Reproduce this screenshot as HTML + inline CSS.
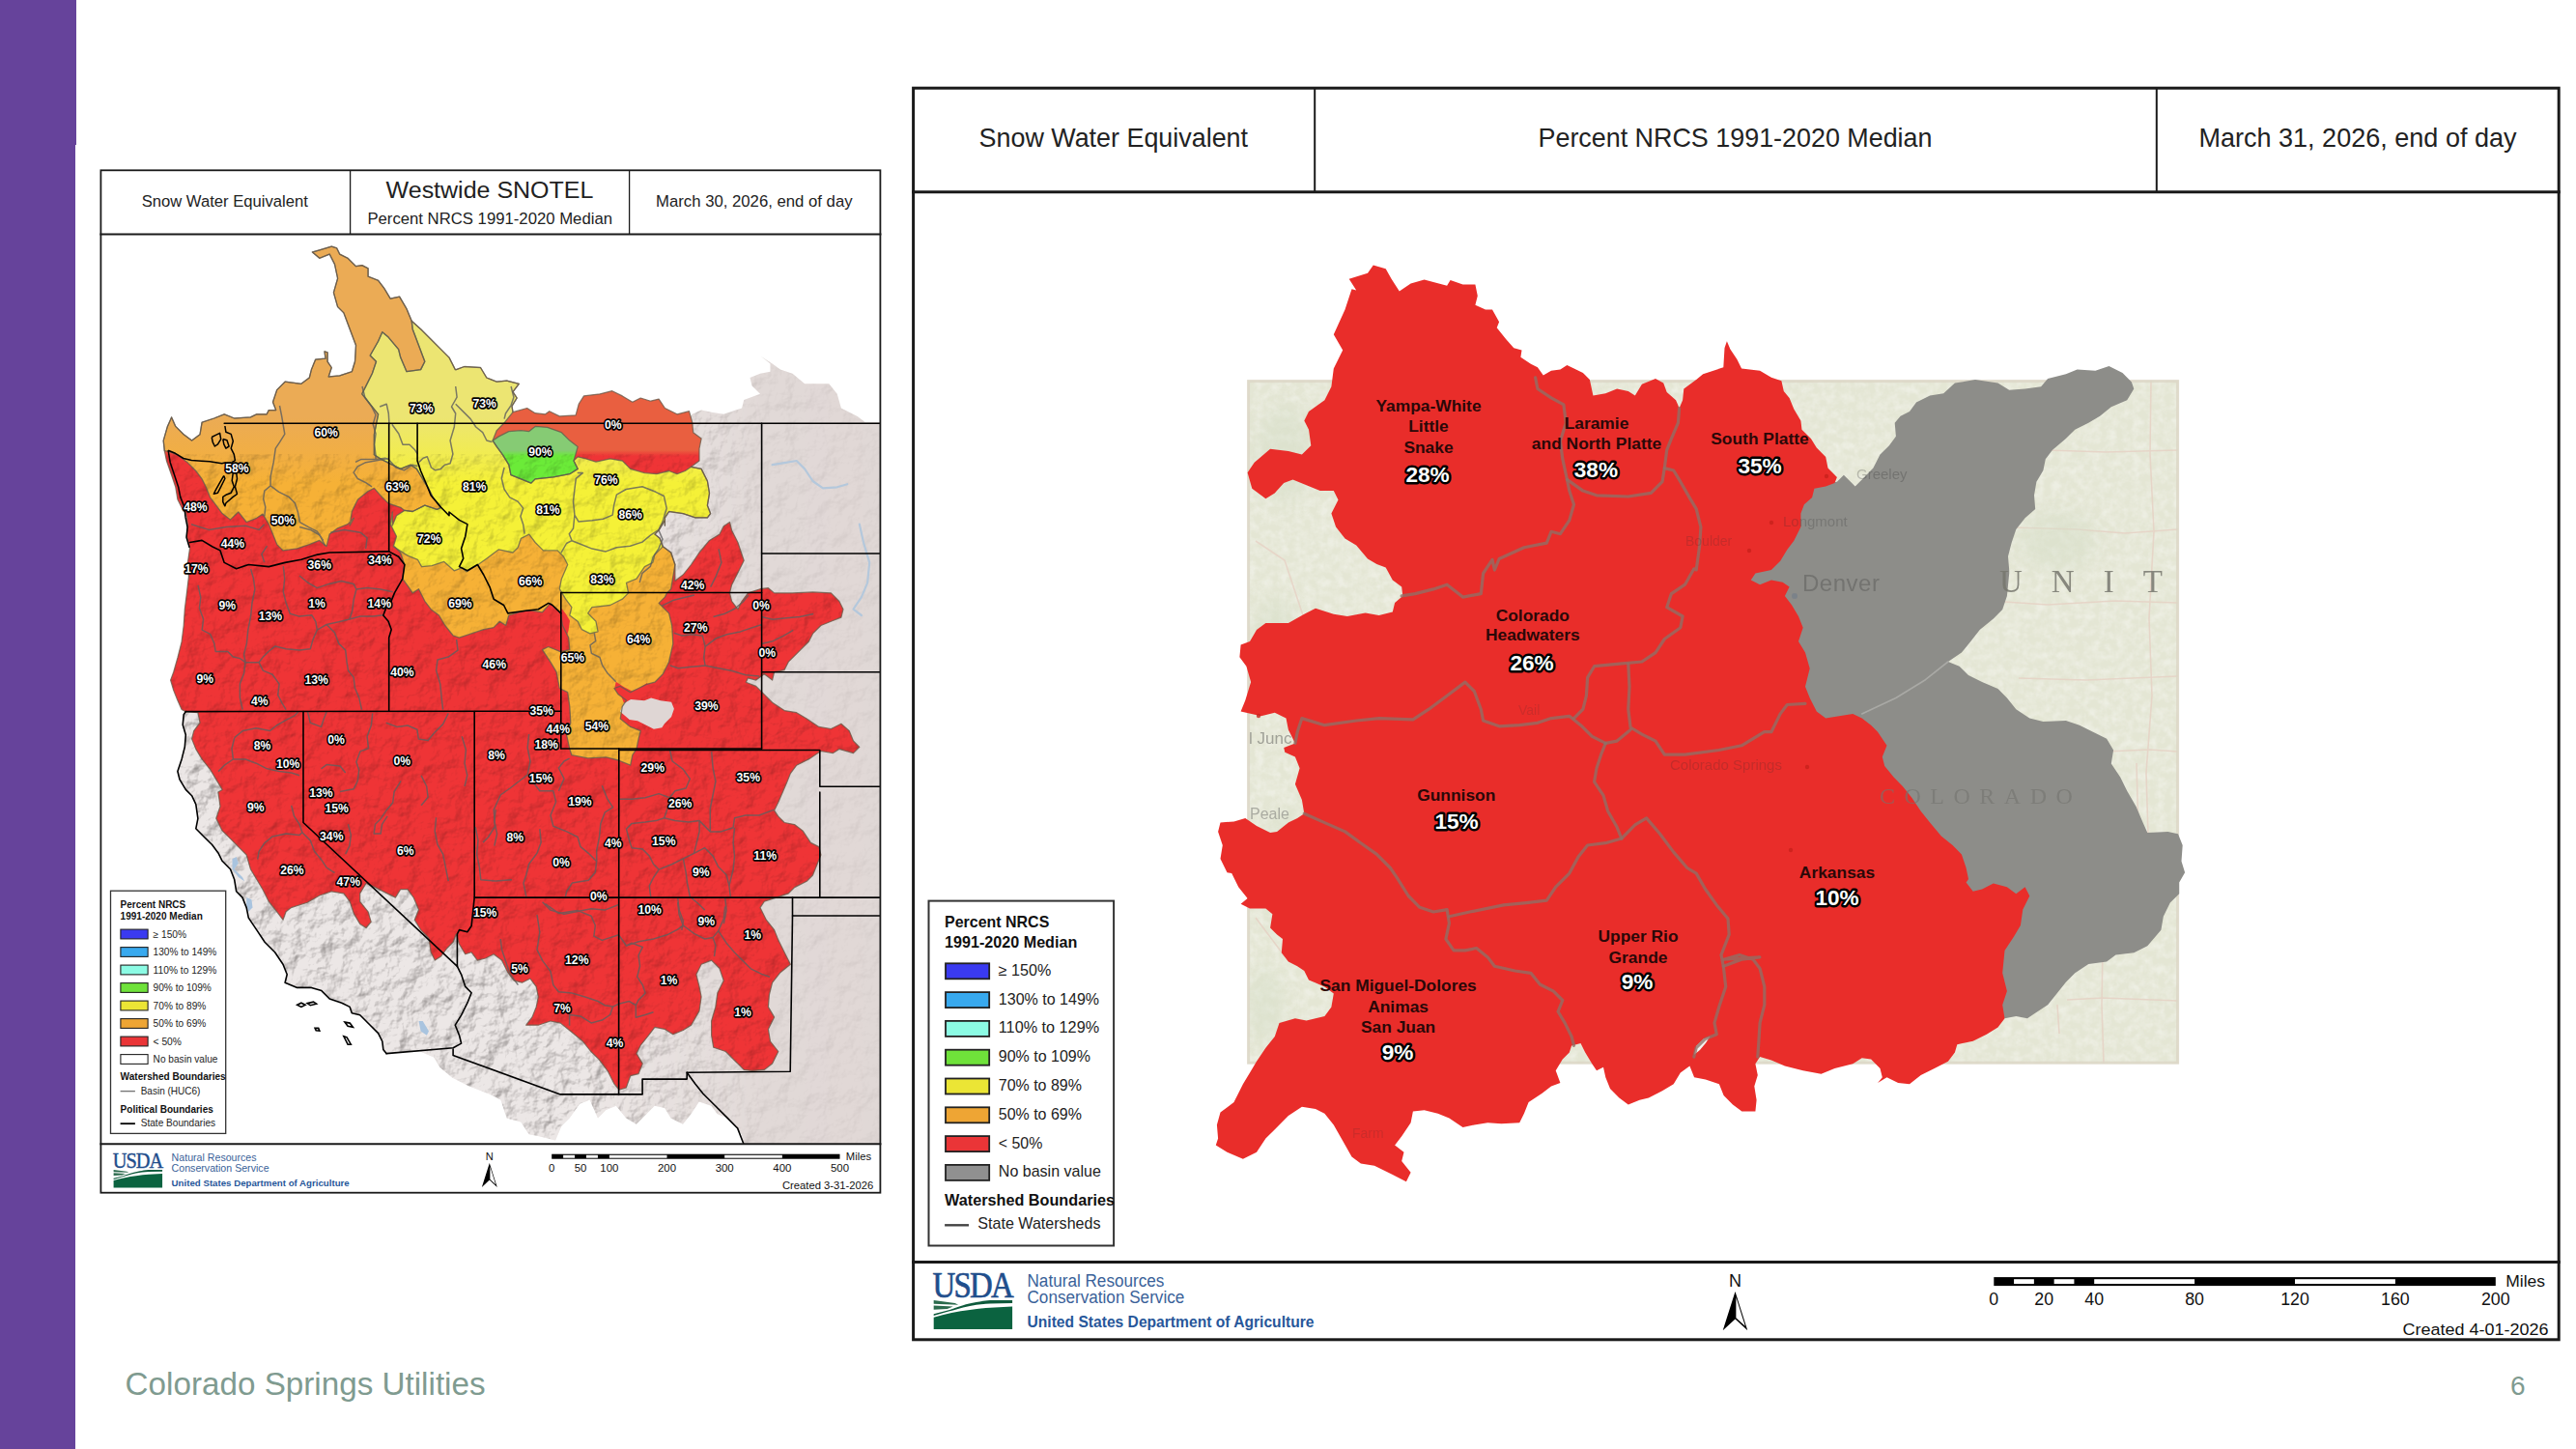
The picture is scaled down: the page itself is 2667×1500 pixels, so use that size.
<!DOCTYPE html><html><head><meta charset="utf-8"><title>Snow Water Equivalent</title><style>
html,body{margin:0;padding:0;background:#fff}body{width:2667px;height:1500px;overflow:hidden;position:relative}
svg{position:absolute;left:0;top:0;font-family:"Liberation Sans", sans-serif}
.pl{paint-order:stroke;stroke:#000;stroke-linejoin:round;fill:#fff;font-weight:bold}
</style></head><body>
<svg width="2667" height="1500" viewBox="0 0 2667 1500">
<defs>
<filter id="tex" x="0" y="0" width="100%" height="100%"><feTurbulence type="fractalNoise" baseFrequency="0.12" numOctaves="3" seed="3" result="n"/><feColorMatrix in="n" type="matrix" values="0 0 0 0 1  0 0 0 0 1  0 0 0 0 1  1.4 1.4 0 0 -1.05" result="a"/><feComposite in="a" in2="SourceGraphic" operator="in"/></filter>
<filter id="hs" x="0" y="0" width="100%" height="100%" color-interpolation-filters="sRGB"><feTurbulence type="fractalNoise" baseFrequency="0.05" numOctaves="5" seed="8" result="n"/><feDiffuseLighting in="n" surfaceScale="4.6" diffuseConstant="1.2" lighting-color="#ffffff" result="l"><feDistantLight azimuth="225" elevation="52"/></feDiffuseLighting><feComposite in="l" in2="SourceGraphic" operator="in"/></filter>
<linearGradient id="mw" x1="0" y1="0" x2="1" y2="0"><stop offset="0" stop-color="#fff"/><stop offset="0.62" stop-color="#fff"/><stop offset="0.85" stop-color="#333"/><stop offset="1" stop-color="#222"/></linearGradient><mask id="mwest" maskUnits="userSpaceOnUse" x="105" y="243" width="806" height="941"><rect x="105" y="243" width="806" height="941" fill="url(#mw)"/></mask>
<clipPath id="lmap"><rect x="105" y="243" width="806" height="941"/></clipPath>
<clipPath id="lunion"><polygon points="169.2,456.1 173.4,441.4 177.6,431.9 181.8,441.4 190.2,449.8 198.6,456.1 207,449.8 209.1,437.2 221.7,433 232.2,428.8 242.6,433 259.4,431.9 265.7,428.8 276.2,428.8 278.3,424.6 285.7,424.6 282.5,416.2 286.7,403.6 295.1,395.2 311.9,397.3 320.3,391 322.4,382.6 326.6,372.2 337,371.1 336,363.8 339.1,364.8 339.1,374.3 343.3,380.5 340.2,390 351.7,388.9 364.3,384.7 367.5,374.3 368.5,357.5 362.2,340.7 355.9,323.9 349.6,317.6 345.4,302.9 349.6,288.2 346.5,273.6 341.2,263.1 330.8,267.3 323.4,261 330.8,258.9 343.3,255.1 348.6,256.8 351.7,263.1 360.1,267.3 368.5,275.7 374.8,274.6 381.1,277.8 381.1,286.2 391.6,290.3 397.9,298.7 404.2,309.2 413.6,307.1 421,319.7 426.2,332.3 435.6,340.7 446.1,351.2 454.5,359.6 465,370.1 471.3,382.6 472.3,382.6 480.7,379.5 497.5,380.5 503.8,391 514.3,395.2 524.7,394.2 537.3,397.3 531,405.7 535.2,412 530,420.4 531,426.7 545.7,422.5 554.1,427.7 564.6,428.8 568.8,425.7 579.3,430.9 596.1,429.8 599.2,418.3 604.5,409.9 621.2,407.8 633.8,404.7 644.3,409.9 654.8,416.2 663.2,412 673.7,415.2 682.1,413.1 688.4,422.5 701,428.8 713.5,425.7 716.7,437.2 717.7,447.7 726.1,454 724,464.5 724,477 715.6,483.3 726.1,485.4 732.4,498 734.5,510.6 732.4,523.2 735.6,531.6 732.4,535.8 719.8,535.8 707.2,531.6 692.6,529.5 688.4,535.8 688.4,544 688.4,538.4 682.1,548.9 677.9,553.1 683.1,557.3 686.3,565.7 694.7,572 698.9,584.5 698.9,601.3 707.2,595 715.6,584.5 724,572 734.5,559.4 745,553.1 749.2,544.7 755.5,540.5 757.6,548.9 763.9,561.5 770.2,580.3 763.9,592.9 757.6,605.5 755.5,613.9 757.6,622.3 763.9,630.7 768.1,622.3 774.4,613.9 787,609.7 795.4,608.7 801.6,613.9 820.5,613.9 841.5,612.9 860.4,613.9 868.8,622.3 873,630.7 870.9,639.1 860.4,643.3 849.9,647.5 841.5,655.9 837.3,664.3 828.9,672.6 822.6,678.9 816.3,685.2 812.1,693.6 801.6,695.7 799.6,704.1 791.2,697.8 782.8,704.1 774.4,702 772.3,706.2 782.8,710.4 791.2,718.8 799.6,727.2 812.1,735.6 824.7,737.7 835.2,744 847.8,752.4 860.4,754.5 870.9,749.2 879.3,756.6 883.5,767 889.8,773.3 883.5,779.6 868.8,775.4 862.5,779.6 849.9,777.5 837.3,785.9 824.7,792.2 818.4,800.6 814.2,811.1 805.8,830.5 801.6,838.9 805.8,845.2 812.1,851.5 822.6,853.6 831,859.9 839.4,872.4 847.8,876.6 849.9,885 845.7,895.5 841.5,906 835.2,912.3 822.6,918.6 816.3,924.9 803.7,929.1 791.2,933.3 787,939.6 793.3,952.2 801.6,962.6 805.8,973.1 812.1,985.7 818.4,998.3 807.9,1006.7 799.6,1017.2 796.4,1029.8 795.4,1042.4 801.6,1052.9 795.4,1065.4 797.5,1078 805.8,1088.5 799.6,1101.1 791.2,1107.4 778.6,1108.4 770.2,1107.4 761.8,1099 751.3,1088.5 738.7,1084.3 736.6,1071.7 736.6,1057 740.8,1042.4 742.9,1027.7 749.2,1015.1 745,1002.5 736.6,994.1 726.1,998.3 720.9,1008.8 724,1021.4 726.1,1031.9 724,1046.6 715.6,1061.2 707.2,1066.5 696.8,1070.7 688.4,1065.4 677.9,1063.3 671.6,1071.7 663.2,1082.2 659,1090.6 665.3,1101.1 661.1,1111.6 652.7,1113.7 648.3,1126 641,1128.1 635.8,1121.8 629.5,1109.2 620,1096.6 611.8,1088.5 603.4,1078 590.8,1067.5 580.3,1059.1 569.8,1057 557.3,1061.2 544.7,1061.2 551,1052.9 555.2,1042.4 557.3,1031.9 555.2,1021.4 548.9,1013 540.5,1017.2 532.1,1015.1 525.8,1006.7 519.5,994.1 511.1,987.8 502.7,992 494.3,994.1 488,985.7 481.7,987.8 475.4,977.3 472.3,966.8 469.2,975.2 462.9,981.5 456.6,989.9 450.3,994.1 446.1,985.7 444,971 435.6,962.6 429.3,952.2 433.5,941.7 428.2,929.1 422,920.7 414.6,920.7 409.4,929.1 401,924.9 388.4,918.6 379,914.4 372.7,924.9 372.7,933.3 381.1,943.8 384.2,954.3 379,960.5 372.7,956.4 366.4,945.9 362.2,933.3 355.9,924.9 343.3,922.8 330.8,927 318.2,934.3 301.4,939.6 296.1,943.8 293,952.2 286.7,943.8 278.3,933.3 272,920.7 265.7,910.2 259.4,899.7 255.2,885 246.8,876.6 238.5,868.2 230.1,859.9 223.8,847.3 228,834.7 225.9,820 230.1,817.4 223.8,806.9 217.5,796.4 209.1,785.9 202.8,775.4 198.6,764.9 200.7,756.6 207,748.2 204.9,737.7 192.3,736.6 188.1,734.5 183.9,725.1 179.7,714.6 176.6,704.1 179.7,695.7 183.9,681 188.1,664.3 190.2,647.5 191.3,630.7 193.4,613.9 195.4,597.1 194.4,582.4 196.5,567.8 193.4,555.2 194.4,542.6 192.3,530 190.2,529.5 183.9,516.9 181.8,504.3 177.6,491.7 172.4,477 170.3,466.6"/></clipPath>
<clipPath id="lland"><polygon points="192.3,736.6 300,700 500,600 650,500 700,450 716.7,428.8 726.1,424.6 736.6,426.7 749.2,428.8 768.1,422.5 770.2,414.1 787,407.8 778.6,399.4 776.5,391 787,386.8 797.5,384.7 797.5,376.4 788,369 799.6,376.4 807.9,382.6 820.5,386.8 833.1,397.3 858.3,397.3 866.7,407.8 870.9,422.5 887.7,430.9 896,437.2 910.7,437.2 911,438 911,1184 769.9,1184.2 767.8,1174.2 761.6,1165.8 753.2,1157.4 742.7,1153.2 736.4,1144.8 723.8,1140.6 715.4,1153.2 707,1163.7 694.5,1157.4 688.2,1146.9 677.7,1144.8 669.3,1153.2 658.8,1163.7 648.3,1157.4 637.9,1144.8 627.4,1149 619,1157.4 610.6,1138.5 600.1,1142.7 589.6,1157.4 581.3,1165.8 575,1180.5 558.2,1176.3 547.7,1174.2 539.3,1161.6 524.7,1157.4 518.4,1138.5 505.8,1132.2 484.8,1123.9 468.1,1115.5 455.5,1105 449.2,1094.5 434.5,1088.2 401,1090.3 395.7,1084 400,1090.6 396.8,1086.4 395.8,1078 391.6,1069.6 383.2,1061.2 372.7,1050.8 364.3,1048.7 362.2,1042.4 353.8,1038.2 341.2,1034 332.9,1025.6 322.4,1022.4 307.7,1022.4 295.1,1017.2 297.2,1008.8 293,998.3 284.6,985.7 274.1,975.2 265.7,962.6 257.3,950.1 255.2,939.6 251,929.1 244.7,922.8 242.6,910.2 238.5,899.7 230.1,891.3 225.9,882.9 219.6,874.5 211.2,866.2 202.8,857.8 204.9,847.3 202.8,832.6 198.6,823.7 192.3,817.4 186,806.9 183.9,798.5 188.1,785.9 191.3,773.3 192.3,760.8 189.2,750.3 190.2,739.8 192.3,736.6"/></clipPath>
<clipPath id="rbase"><rect x="1292" y="394" width="963.5" height="707"/></clipPath>
<linearGradient id="gO" gradientUnits="userSpaceOnUse" x1="0" y1="432" x2="0" y2="500"><stop offset="0" stop-color="#ebab55"/><stop offset="1" stop-color="#f6b136"/></linearGradient>
<linearGradient id="gY" gradientUnits="userSpaceOnUse" x1="0" y1="432" x2="0" y2="500"><stop offset="0" stop-color="#ece572"/><stop offset="1" stop-color="#f5f137"/></linearGradient>
<linearGradient id="gG" gradientUnits="userSpaceOnUse" x1="0" y1="466" x2="0" y2="472"><stop offset="0" stop-color="#86cb74"/><stop offset="1" stop-color="#6beb38"/></linearGradient>
<linearGradient id="gR" gradientUnits="userSpaceOnUse" x1="0" y1="466" x2="0" y2="472"><stop offset="0" stop-color="#e95f40"/><stop offset="1" stop-color="#ef3436"/></linearGradient>
</defs>
<rect x="0" y="0" width="78" height="1500" fill="#66439b"/>
<rect x="78" y="0" width="1" height="150" fill="#66439b"/>
<g id="leftmap">
<g clip-path="url(#lmap)">
<polygon points="192.3,736.6 300,700 500,600 650,500 700,450 716.7,428.8 726.1,424.6 736.6,426.7 749.2,428.8 768.1,422.5 770.2,414.1 787,407.8 778.6,399.4 776.5,391 787,386.8 797.5,384.7 797.5,376.4 788,369 799.6,376.4 807.9,382.6 820.5,386.8 833.1,397.3 858.3,397.3 866.7,407.8 870.9,422.5 887.7,430.9 896,437.2 910.7,437.2 911,438 911,1184 769.9,1184.2 767.8,1174.2 761.6,1165.8 753.2,1157.4 742.7,1153.2 736.4,1144.8 723.8,1140.6 715.4,1153.2 707,1163.7 694.5,1157.4 688.2,1146.9 677.7,1144.8 669.3,1153.2 658.8,1163.7 648.3,1157.4 637.9,1144.8 627.4,1149 619,1157.4 610.6,1138.5 600.1,1142.7 589.6,1157.4 581.3,1165.8 575,1180.5 558.2,1176.3 547.7,1174.2 539.3,1161.6 524.7,1157.4 518.4,1138.5 505.8,1132.2 484.8,1123.9 468.1,1115.5 455.5,1105 449.2,1094.5 434.5,1088.2 401,1090.3 395.7,1084 400,1090.6 396.8,1086.4 395.8,1078 391.6,1069.6 383.2,1061.2 372.7,1050.8 364.3,1048.7 362.2,1042.4 353.8,1038.2 341.2,1034 332.9,1025.6 322.4,1022.4 307.7,1022.4 295.1,1017.2 297.2,1008.8 293,998.3 284.6,985.7 274.1,975.2 265.7,962.6 257.3,950.1 255.2,939.6 251,929.1 244.7,922.8 242.6,910.2 238.5,899.7 230.1,891.3 225.9,882.9 219.6,874.5 211.2,866.2 202.8,857.8 204.9,847.3 202.8,832.6 198.6,823.7 192.3,817.4 186,806.9 183.9,798.5 188.1,785.9 191.3,773.3 192.3,760.8 189.2,750.3 190.2,739.8 192.3,736.6" fill="#dfd6d4" />
<g clip-path="url(#lland)"><g mask="url(#mwest)"><rect x="105" y="243" width="806" height="941" fill="#fff" filter="url(#hs)" opacity="0.42"/></g></g>
<polyline points="799.6,481.2 812.1,479.1 824.7,477 833.1,485.4 841.5,498 852,505.4 866.7,504.3 877.2,501.2" fill="none" stroke="#b4c8dc" stroke-width="2.2" stroke-linejoin="round" stroke-linecap="round" />
<polyline points="889.8,542.6 894,561.5 900.2,582.4 898.1,603.4 891.9,618.1 883.5,630.7 891.9,637" fill="none" stroke="#b4c8dc" stroke-width="2.2" stroke-linejoin="round" stroke-linecap="round" />
<polygon points="240.5,889.2 244.7,887.1 246.8,893.4 242.6,899.7 251,908.1 253.1,912.3 246.8,908.1 240.5,899.7" fill="#a9c4df" />
<polygon points="255.2,929.1 260.5,931.2 261.5,939.6 257.3,943.8 255.2,937.5" fill="#a9c4df" />
<polygon points="433.5,1057 437.7,1057 444,1067.5 441.9,1071.7 435.6,1067.5" fill="#a9c4df" />
<polygon points="169.2,456.1 173.4,441.4 177.6,431.9 181.8,441.4 190.2,449.8 198.6,456.1 207,449.8 209.1,437.2 221.7,433 232.2,428.8 242.6,433 259.4,431.9 265.7,428.8 276.2,428.8 278.3,424.6 285.7,424.6 282.5,416.2 286.7,403.6 295.1,395.2 311.9,397.3 320.3,391 322.4,382.6 326.6,372.2 337,371.1 336,363.8 339.1,364.8 339.1,374.3 343.3,380.5 340.2,390 351.7,388.9 364.3,384.7 367.5,374.3 368.5,357.5 362.2,340.7 355.9,323.9 349.6,317.6 345.4,302.9 349.6,288.2 346.5,273.6 341.2,263.1 330.8,267.3 323.4,261 330.8,258.9 343.3,255.1 348.6,256.8 351.7,263.1 360.1,267.3 368.5,275.7 374.8,274.6 381.1,277.8 381.1,286.2 391.6,290.3 397.9,298.7 404.2,309.2 413.6,307.1 421,319.7 426.2,332.3 435.6,340.7 446.1,351.2 454.5,359.6 465,370.1 471.3,382.6 472.3,382.6 480.7,379.5 497.5,380.5 503.8,391 514.3,395.2 524.7,394.2 537.3,397.3 531,405.7 535.2,412 530,420.4 531,426.7 545.7,422.5 554.1,427.7 564.6,428.8 568.8,425.7 579.3,430.9 596.1,429.8 599.2,418.3 604.5,409.9 621.2,407.8 633.8,404.7 644.3,409.9 654.8,416.2 663.2,412 673.7,415.2 682.1,413.1 688.4,422.5 701,428.8 713.5,425.7 716.7,437.2 717.7,447.7 726.1,454 724,464.5 724,477 715.6,483.3 726.1,485.4 732.4,498 734.5,510.6 732.4,523.2 735.6,531.6 732.4,535.8 719.8,535.8 707.2,531.6 692.6,529.5 688.4,535.8 688.4,544 688.4,538.4 682.1,548.9 677.9,553.1 683.1,557.3 686.3,565.7 694.7,572 698.9,584.5 698.9,601.3 707.2,595 715.6,584.5 724,572 734.5,559.4 745,553.1 749.2,544.7 755.5,540.5 757.6,548.9 763.9,561.5 770.2,580.3 763.9,592.9 757.6,605.5 755.5,613.9 757.6,622.3 763.9,630.7 768.1,622.3 774.4,613.9 787,609.7 795.4,608.7 801.6,613.9 820.5,613.9 841.5,612.9 860.4,613.9 868.8,622.3 873,630.7 870.9,639.1 860.4,643.3 849.9,647.5 841.5,655.9 837.3,664.3 828.9,672.6 822.6,678.9 816.3,685.2 812.1,693.6 801.6,695.7 799.6,704.1 791.2,697.8 782.8,704.1 774.4,702 772.3,706.2 782.8,710.4 791.2,718.8 799.6,727.2 812.1,735.6 824.7,737.7 835.2,744 847.8,752.4 860.4,754.5 870.9,749.2 879.3,756.6 883.5,767 889.8,773.3 883.5,779.6 868.8,775.4 862.5,779.6 849.9,777.5 837.3,785.9 824.7,792.2 818.4,800.6 814.2,811.1 805.8,830.5 801.6,838.9 805.8,845.2 812.1,851.5 822.6,853.6 831,859.9 839.4,872.4 847.8,876.6 849.9,885 845.7,895.5 841.5,906 835.2,912.3 822.6,918.6 816.3,924.9 803.7,929.1 791.2,933.3 787,939.6 793.3,952.2 801.6,962.6 805.8,973.1 812.1,985.7 818.4,998.3 807.9,1006.7 799.6,1017.2 796.4,1029.8 795.4,1042.4 801.6,1052.9 795.4,1065.4 797.5,1078 805.8,1088.5 799.6,1101.1 791.2,1107.4 778.6,1108.4 770.2,1107.4 761.8,1099 751.3,1088.5 738.7,1084.3 736.6,1071.7 736.6,1057 740.8,1042.4 742.9,1027.7 749.2,1015.1 745,1002.5 736.6,994.1 726.1,998.3 720.9,1008.8 724,1021.4 726.1,1031.9 724,1046.6 715.6,1061.2 707.2,1066.5 696.8,1070.7 688.4,1065.4 677.9,1063.3 671.6,1071.7 663.2,1082.2 659,1090.6 665.3,1101.1 661.1,1111.6 652.7,1113.7 648.3,1126 641,1128.1 635.8,1121.8 629.5,1109.2 620,1096.6 611.8,1088.5 603.4,1078 590.8,1067.5 580.3,1059.1 569.8,1057 557.3,1061.2 544.7,1061.2 551,1052.9 555.2,1042.4 557.3,1031.9 555.2,1021.4 548.9,1013 540.5,1017.2 532.1,1015.1 525.8,1006.7 519.5,994.1 511.1,987.8 502.7,992 494.3,994.1 488,985.7 481.7,987.8 475.4,977.3 472.3,966.8 469.2,975.2 462.9,981.5 456.6,989.9 450.3,994.1 446.1,985.7 444,971 435.6,962.6 429.3,952.2 433.5,941.7 428.2,929.1 422,920.7 414.6,920.7 409.4,929.1 401,924.9 388.4,918.6 379,914.4 372.7,924.9 372.7,933.3 381.1,943.8 384.2,954.3 379,960.5 372.7,956.4 366.4,945.9 362.2,933.3 355.9,924.9 343.3,922.8 330.8,927 318.2,934.3 301.4,939.6 296.1,943.8 293,952.2 286.7,943.8 278.3,933.3 272,920.7 265.7,910.2 259.4,899.7 255.2,885 246.8,876.6 238.5,868.2 230.1,859.9 223.8,847.3 228,834.7 225.9,820 230.1,817.4 223.8,806.9 217.5,796.4 209.1,785.9 202.8,775.4 198.6,764.9 200.7,756.6 207,748.2 204.9,737.7 192.3,736.6 188.1,734.5 183.9,725.1 179.7,714.6 176.6,704.1 179.7,695.7 183.9,681 188.1,664.3 190.2,647.5 191.3,630.7 193.4,613.9 195.4,597.1 194.4,582.4 196.5,567.8 193.4,555.2 194.4,542.6 192.3,530 190.2,529.5 183.9,516.9 181.8,504.3 177.6,491.7 172.4,477 170.3,466.6" fill="url(#gR)" />
<polygon points="408.3,565.7 414.6,572 418.8,584.5 416.7,599.2 423,607.6 427.2,613.9 433.5,609.7 439.8,622.3 446.1,630.7 454.5,637 460.8,647.5 469.2,658 475.4,660.1 488,655.9 500.6,651.7 511.1,649.6 517.4,643.3 523.7,647.5 526.8,637 540.5,632.8 547.8,631.7 561.5,633.8 569.8,624.4 574,628.6 580.3,634.9 582.4,647.5 588.7,660.1 589.8,672.6 580.3,674.7 567.7,669.5 561.5,672.6 569.8,685.2 576.1,695.7 579.3,712.5 587.7,716.7 589.8,731.4 590.8,748.2 586.6,760.8 589.8,775.4 591.9,781.7 608.7,784.9 627.5,783.8 640.1,787 652.7,792.2 654.8,781.7 659,775.4 661.1,764.9 663.2,756.6 652.7,752.4 642.2,744 644.3,731.4 648.5,725.1 640.1,718.8 635.9,712.5 642.2,710.4 652.7,716.7 661.1,712.5 669.5,708.3 677.9,706.2 686.3,697.8 692.6,685.2 696.8,666.4 695.7,647.5 692.6,634.9 682.1,624.4 688.4,618.1 690.5,613.9 694.7,609.7 696.8,597.1 698.9,584.5 694.7,572 686.3,565.7 652.7,582.4 589.8,561.5 547.8,546.8 484.9,572 442.9,572" fill="#f6b136" />
<polygon points="169.2,456.1 173.4,441.4 177.6,431.9 181.8,441.4 190.2,449.8 198.6,456.1 207,449.8 209.1,437.2 221.7,433 232.2,428.8 242.6,433 259.4,431.9 265.7,428.8 276.2,428.8 278.3,424.6 285.7,424.6 282.5,416.2 286.7,403.6 295.1,395.2 311.9,397.3 320.3,391 322.4,382.6 326.6,372.2 337,371.1 336,363.8 339.1,364.8 339.1,374.3 343.3,380.5 340.2,390 351.7,388.9 364.3,384.7 367.5,374.3 368.5,357.5 362.2,340.7 355.9,323.9 349.6,317.6 345.4,302.9 349.6,288.2 346.5,273.6 341.2,263.1 330.8,267.3 323.4,261 330.8,258.9 343.3,255.1 348.6,256.8 351.7,263.1 360.1,267.3 368.5,275.7 374.8,274.6 381.1,277.8 381.1,286.2 391.6,290.3 397.9,298.7 404.2,309.2 413.6,307.1 421,319.7 426.2,332.3 427.2,340.7 433.5,357.5 439.8,374.3 435.6,382.6 421,384.7 414.7,370.1 412.6,361.7 402.1,349.1 395.8,343.8 391.6,353.3 383.2,368 389.5,374.3 385.3,386.8 379,399.4 374.8,407.8 383.2,418.3 391.6,428.8 389.5,439.3 387.4,449.8 387.4,470.8 393.7,474.9 402.1,479.1 414.7,485.4 425.2,481.2 431.4,485.4 437.7,495.9 444,506.4 448.2,514.8 456.6,525.3 452.4,527.4 439.8,523.2 427.2,529.5 418.9,528.4 414.7,525.3 402.1,521.1 393.7,512.7 387.4,505.4 381.1,508.5 370.6,516.9 364.3,529.5 362.2,544 366.4,536.3 360.1,542.6 349.6,546.8 341.2,553.1 338.1,565.7 330.8,559.4 320.3,563.6 307.7,567.8 293,569.9 286.7,563.6 282.5,553.1 278.3,542.6 272,532.1 265.7,536.3 255.2,540.5 246.8,530 238.5,537.9 230.1,531.6 223.8,523.2 217.5,514.8 213.3,504.3 209.1,495.9 202.8,487.5 194.4,479.1 183.9,470.8 175.5,467.6 170.3,466.6" fill="url(#gO)" />
<polygon points="426.2,332.3 435.6,340.7 446.1,351.2 454.5,359.6 465,370.1 471.3,382.6 472.3,382.6 480.7,379.5 497.5,380.5 503.8,391 514.3,395.2 524.7,394.2 537.3,397.3 531,405.7 535.2,412 530,420.4 531,426.7 522.6,437.2 514.3,445.6 510.1,456.1 514.3,462.4 520.5,470.8 526.8,481.2 528.9,491.7 539.4,495.9 549.9,500.1 554.1,495.9 573,493.8 589.8,490.7 598.2,485.4 594,477 598.2,472.9 606.6,474.9 617,478.1 631.7,474.9 644.3,477 652.7,485.4 667.4,489.6 680,490.7 692.6,487.5 701,490.7 709.3,487.5 715.6,483.3 726.1,485.4 732.4,498 734.5,510.6 732.4,523.2 735.6,531.6 732.4,535.8 719.8,535.8 707.2,531.6 692.6,529.5 688.4,535.8 688.4,544 688.4,538.4 682.1,548.9 677.9,553.1 683.1,557.3 686.3,565.7 677.9,574.1 675.8,582.4 667.4,586.6 659,599.2 648.5,603.4 650.6,613.9 644.3,620.2 631.7,626.5 612.9,628.6 608.7,634.9 617,643.3 619.1,653.8 610.8,655.9 602.4,651.7 598.2,643.3 589.8,637 591.9,628.6 585.6,620.2 579.3,609.7 581.4,599.2 587.7,584.5 583.5,576.2 577.2,569.9 562.5,569.9 554.1,561.5 547.8,553.1 539.4,557.3 536.3,566.7 531,572 516.4,568.8 503.8,578.2 496.4,583.5 491.2,586.6 482.8,591.9 478.6,587.7 470.2,590.8 459.7,581.4 447.1,585.6 436.6,586.6 432.4,579.3 422,575.1 407.3,565.7 410.5,555.2 404.2,542.6 406.3,530 406.3,544 410.5,533.7 418.9,528.4 427.2,529.5 439.8,523.2 452.4,527.4 456.6,525.3 448.2,514.8 444,506.4 437.7,495.9 431.4,485.4 425.2,481.2 414.7,485.4 402.1,479.1 393.7,474.9 387.4,470.8 387.4,449.8 389.5,439.3 391.6,428.8 383.2,418.3 374.8,407.8 379,399.4 385.3,386.8 389.5,374.3 383.2,368 391.6,353.3 395.8,343.8 402.1,349.1 412.6,361.7 414.7,370.1 421,384.7 435.6,382.6 439.8,374.3 433.5,357.5 427.2,340.7" fill="url(#gY)" />
<polygon points="510.1,456.1 516.4,451.9 526.8,446.6 539.4,445.6 547.8,446.6 554.1,441.4 566.7,442.4 581.4,447.7 589.8,456.1 598.2,462.4 594,477 598.2,485.4 589.8,490.7 573,493.8 554.1,495.9 549.9,500.1 539.4,495.9 528.9,491.7 526.8,481.2 520.5,470.8 514.3,462.4" fill="url(#gG)" />
<g clip-path="url(#lunion)" style="mix-blend-mode:multiply" opacity="0.26"><rect x="105" y="470" width="806" height="714" fill="#fff" filter="url(#hs)"/></g>
<polygon points="580.5,631.4 581.6,630 585.8,635.6 590,642.6 588.6,652.4 585.8,662.3 581.6,669.3 580.5,670.7" fill="#ef3436"/>
<polygon points="636.3,712.7 637.7,705.7 646.1,711.3 654.5,715.5 661.5,712.7 669.9,707.1 674.1,714.1 660.1,721.1 653.1,723.9 646.1,728.1 643.3,721.1" fill="#ef3436"/>
<polygon points="641.9,736.5 646.1,728.1 653.1,723.9 667.1,725.3 674.1,722.5 683.9,725.3 695.1,726.7 697.9,733.7 695.1,742.1 688.1,749.1 685.3,753.3 676.9,754.7 668.5,750.5 660.1,746.3 651.7,744.9" fill="#dfd6d4"/>
<g fill="none" stroke="#5f5f5f" stroke-width="1.5" stroke-linejoin="round" opacity="0.8">
<polyline points="205,605.8 207.8,618.4 206.4,629.6 210.6,640.9 209.2,652.1 217.6,656.3 221.8,666.1 223.2,674.5 235.8,674.5 241.4,680.1 248.4,681.5 254,685.7 252.6,696.9 248.4,708.1 248.4,722.1 251.2,734.7"/>
<polyline points="259.6,589 262.4,598.8 263.9,610 261,624 259.6,638.1 256.8,652.1 255.4,666.1 252.6,677.3 254,685.7"/>
<polyline points="293.3,586.2 294.7,598.8 293.3,612.8 296.1,624 300.3,635.3 310.1,638.1 322.7,636.7 326.9,643.7 328.3,652.1 324.1,661.9 321.3,671.7 310.1,673.1 296.1,671.7 284.9,668.9 277.9,674.5 272.3,680.1 268.1,685.7 254,685.7"/>
<polyline points="310.1,596 318.5,603 328.3,608.6 340.9,604.4 353.5,601.6 366.1,604.4 368.9,610 366.1,621.2 364.7,632.4 361.9,640.9 350.7,643.7 338.1,646.5 328.3,652.1"/>
<polyline points="368.9,610 380.1,608.6 394.1,610 406.7,612.8"/>
<polyline points="361.9,640.9 373.1,638.1 385.7,638.1 396.9,636.7"/>
<polyline points="338.1,646.5 346.5,654.9 350.7,666.1 357.7,673.1 359.1,685.7 360.5,694.1 366.1,701.1 367.5,712.3 371.7,722.1 374.5,734.7"/>
<polyline points="268.1,685.7 272.3,694.1 282.1,698.3 289.1,708.1 287.7,719.3 291.9,727.7 296.1,734.7"/>
<polyline points="472.6,661.9 474,673.1 464.2,680.1 453,682.9 451.6,694.1 455.8,708.1 457.2,722.1 458.6,734.7"/>
<polyline points="198,542.8 216.2,548.4 234.4,545.6 254,544.2 268.1,548.4 273.7,542.8"/>
<polyline points="276.5,565.2 270.9,573.6 273.7,582"/>
<polyline points="342.3,551.2 356.3,548.4 373.1,551.2 380.1,556.8 378.7,568"/>
<polyline points="310.1,545.6 321.3,548.4 331.1,554 336.7,565.2"/>
<polyline points="242.8,763.6 240,774.8 241.4,786 233,791.6 226,798.6"/>
<polyline points="241.4,786 254,786 265.3,790.2 276.5,795.8 289.1,798.6 301.7,800 310.1,802.8"/>
<polyline points="242.8,763.6 251.2,756.6 265.3,753.8 279.3,756.6 286.3,751 296.1,745.4 304.5,741.2 308.7,737"/>
<polyline points="301.7,833.7 304.5,844.9 310.1,853.3 312.9,861.7 310.1,864.5 296.1,863.1 282.1,865.9 273.7,872.9 268.1,881.3 266.7,889.7"/>
<polyline points="312.9,861.7 321.3,870.1 325.5,881.3 332.5,889.7 338.1,898.1 346.5,903.7"/>
<polyline points="318.5,737 321.3,748.2 332.5,752.4 335.3,744 338.1,737"/>
<polyline points="385.7,738.4 384.3,751 380.1,762.2 381.5,774.8 373.1,777.6 368.9,788.8 371.7,797.2 370.3,808.4 366.1,816.8 352.1,819.6"/>
<polyline points="399.7,748.2 410.9,752.4 422.1,751 431.9,755.2 433.3,765 443.1,766.4 450.2,758 458.6,749.6 464.2,738.4"/>
<polyline points="415.1,808.4 408.1,819.6 406.7,830.9 399.7,839.3 394.1,847.7 388.5,853.3 387.1,863.1 394.1,863.1 395.5,853.3 401.1,844.9"/>
<polyline points="436.1,802.8 441.7,814 443.1,825.3 436.1,833.7"/>
<polyline points="478.2,762.2 482.4,776.2 481,790.2 483.8,802.8 481,814"/>
<polyline points="451.6,846.3 450.2,860.3 453,874.3 458.6,884.1 461.4,898.1 464.2,912.1"/>
<polyline points="492.2,856.1 495,870.1 493.6,884.1 496.4,898.1 497.8,910.7 513.2,912.1 530,910.7"/>
<polyline points="360.5,853.3 363.3,864.5 361.9,875.7 357.7,884.1"/>
<polyline points="332.5,795.8 338.1,791.6 352.1,793 357.7,800"/>
<polyline points="513.2,837.9 511.8,850.5 514.6,863.1 511.8,875.7"/>
<polyline points="547.6,760 546.2,774 549,788 546.2,802 528,816 518.2,823 511.2,838.4 512.6,855.3 505.6,866.5 500,872.1"/>
<polyline points="546.2,802 558.8,818.8 572.8,818.8 575.6,830 570,844 572.8,855.3 586.8,860.9 598.1,866.5 600.9,876.3 609.3,883.3 617.7,891.7 616.3,902.9 609.3,911.3 592.4,914.1 586.8,922.5 585.4,928.1"/>
<polyline points="623.3,813.2 628.9,827.2 634.5,835.6 626.1,841.2 621.9,852.4 620.5,866.5 617.7,880.5 617.7,891.7"/>
<polyline points="558.8,858.1 560.2,872.1 556,883.3 547.6,894.5 544.8,905.7 542,914.1 544.8,928.1"/>
<polyline points="693.3,775.4 696.1,788 707.3,796.4 714.3,806.2 710.1,816 698.9,818.8 693.3,825.8"/>
<polyline points="640.5,827.2 654.1,827.2 668.1,825.8 682.1,821.6 693.3,825.8 690.5,838.4 687.7,846.8 679.3,849.6 668.1,851 654.1,852.4 648.5,858.1 651.3,869.3 654.1,877.7 665.3,879.1 672.3,886.1 676.5,894.5 682.1,900.1 676.5,908.5 672.3,916.9 673.7,928.1"/>
<polyline points="687.7,846.8 698.9,849.6 712.9,851 724.1,849.6 735.3,860.9 746.5,860.9 759.1,856.7 760.5,846.8 771.7,844 785.8,844 801.2,838.4"/>
<polyline points="736.7,778.2 738.1,795 740.9,809 738.1,823 735.3,837 735.3,860.9"/>
<polyline points="682.1,900.1 696.1,894.5 707.3,888.9 718.5,883.3 729.7,877.7 738.1,886.1 743.7,897.3 752.1,905.7 754.9,916.9 756.3,928.1"/>
<polyline points="718.5,883.3 721.3,872.1 724.1,860.9 724.1,849.6"/>
<polyline points="707.3,888.9 710.1,902.9 711.5,914.1 714.3,928.1 724.1,936.5 729.7,942.1"/>
<polyline points="760.5,856.7 759.1,872.1 760.5,886.1 759.1,900.1 754.9,916.9"/>
<polyline points="640.5,936.5 626.1,942.1 612.1,940.7 598.1,943.5 584,946.3 570,942.1 561.6,933.7"/>
<polyline points="701.7,929.5 703.1,942.1 707.3,953.3 705.9,963"/>
<polyline points="750.7,929.5 752.1,942.1 749.3,956.1"/>
<polyline points="578.4,818.8 584,806.2 578.4,795 584,788 589.6,785.2"/>
<polyline points="518.2,972 519.6,983.2 522.4,991.6 528,1008.4 536.4,1019.6"/>
<polyline points="556,946.8 558.8,965 556,983.2 561.6,994.4 570,1005.6 572.8,1019.6 578.4,1026.7 592.4,1028.1 606.5,1032.3 619.1,1036.5 626.1,1040.7 634.5,1042.1 640.5,1039.3"/>
<polyline points="564.4,935.6 578.4,945.4 598.1,942.6 612.1,948.2 616.3,958 614.9,969.2 623.3,973.4 640.5,967.8"/>
<polyline points="589.6,1061.7 589.6,1050.5 600.9,1051.9 612.1,1058.9 623.3,1056.1 631.7,1050.5 634.5,1042.1"/>
<polyline points="640.5,1039.3 651.3,1036.5 658.3,1040.7 658.3,1053.3 668.1,1050.5 676.5,1047.7"/>
<polyline points="640.5,967.8 648.5,979 654.1,976.2 665.3,980.4 661.1,988.8 662.5,1000 659.7,1011.2 665.3,1019.6 668.1,1028.1 661.1,1035.1 658.3,1040.7"/>
<polyline points="648.5,979 661.1,974.8 676.5,972 690.5,967.8 701.7,962.2 707.3,958"/>
<polyline points="701.7,934.2 703.1,946.8 707.3,958 718.5,966.4 729.7,972 738.1,970.6 740.9,979 739.5,990.2"/>
<polyline points="750.7,938.4 749.3,951 743.7,963.6 738.1,970.6"/>
<polyline points="743.7,963.6 752.1,976.2 760.5,986 768.9,994.4 777.3,1002.8 788.6,1008.4 797,1011.2"/>
<polyline points="375,400 377.8,411.2 384.8,421 389,429.4 386.2,439.2 389,449 387.6,460.2 389,471.4 389,475.6"/>
<polyline points="393.2,421 400.2,418.2 402.3,428 403,439.2"/>
<polyline points="405.8,439.2 412.8,449 417,460.2 424,460.2 429.6,465.8 432.4,470"/>
<polyline points="471.7,400 473.1,411.2 467.5,421 471.7,428 470.3,442 466.1,456 468.9,470 466.1,479.8 460.5,481.2 456.3,485.4 450.7,486.8 446.5,484 442.3,472.8 438.1,474.2 433.9,478.4"/>
<polyline points="471.7,418.2 480.1,426.6 487.1,433.6 492.7,442 499.7,447.6 503.9,456 509.5,457.4"/>
<polyline points="529.1,400 531.9,411.2 529.1,419.6 523.5,428 522.1,433.6"/>
<polyline points="522.1,484 519.3,495.3 522.1,506.5 527.7,514.9 536.1,519.1 541.7,526.1 538.9,534.5 541.7,542.9 543.1,552.7"/>
<polyline points="597.7,489.6 603.3,489.6 596.3,495.3 594.9,506.5 593.5,519.1 594.9,533.1 599.1,540.1 613.1,538.7 624.4,537.3 634.2,533.1 635.6,523.3 638.4,512.1 648.2,506.5 665,503.7 679,509.3 687.4,513.5 690.2,526.1 686,540.1 681.8,548.5 673.4,554.1 665,561.1 652.4,565.3 638.4,566.7 627.2,570.9 613.1,568.1 599.1,562.5 592.1,559.7 589.3,552.7 593.5,547.1 594.9,533.1"/>
<polyline points="592.1,559.7 586.5,562.5 580.9,572.3"/>
<polyline points="681.8,548.5 686,558.3 681.8,568.1 676.2,576.5 673.4,586.3 665,593.3 662.2,603"/>
<polyline points="368,478.4 373.6,475.6 389,475.6 398.8,474.2 402.3,475.6 410,484 418.4,486.8 426.8,481.2 432.4,482.6"/>
<polyline points="615.3,655.3 616.7,663.7 611,667.9 612.4,676.3 620.9,680.5 623.7,688.9 629.3,697.3 637.7,705.7"/>
<polyline points="697.9,655.3 706.3,658.1 716.1,656.7 727.3,658.1 730.1,669.3 728.7,680.5 730.1,688.9"/>
<polyline points="693.7,688.9 702.1,691.7 716.1,690.3 730.1,688.9 744.1,691.7 758.1,694.5 772.1,698.7 786.1,700.1"/>
<polyline points="730.1,669.3 741.3,660.9 752.5,656.7 766.5,653.9 779.1,649.6 788.2,646.8"/>
<polyline points="738.5,638.4 749.7,635.6 760.9,630 769.3,623 774.9,616"/>
<polyline points="788.2,638.4 800.2,641.2 814.2,639.8 828.2,638.4 842.2,635.6"/>
<polyline points="788.2,666.5 800.2,663.7 811.4,658.1 821.2,652.4"/>
<polyline points="744.1,568.4 746.9,582.4 741.3,596.4 735.7,607.6"/>
<polyline points="685.3,627.2 696.5,621.6 707.7,618.8 718.9,616"/>
<polyline points="289.5,420 291.6,430.5 294.8,449.4 289.5,457.8 285.3,464.1 283.2,478.7 280.1,493.4 280.1,502.9 273.8,508.1 272.7,516.5 274.8,524.9 273.8,534.3"/>
<polyline points="280.1,502.9 288.5,509.2 299,514.4 305.3,520.7 308.4,530.1 310.5,540.6 319.9,545.9 328.3,550.1 334.6,559.5"/>
<polyline points="401.8,474.5 391.3,476.6 378.7,478.7 370.3,482.9 366.1,489.2 370.3,495.5 378.7,499.7 385,503.9"/>
</g>
<polyline points="169.2,456.1 173.4,441.4 177.6,431.9 181.8,441.4 190.2,449.8 198.6,456.1 207,449.8 209.1,437.2 221.7,433 232.2,428.8 242.6,433 259.4,431.9 265.7,428.8 276.2,428.8 278.3,424.6 285.7,424.6 282.5,416.2 286.7,403.6 295.1,395.2 311.9,397.3 320.3,391 322.4,382.6 326.6,372.2 337,371.1 336,363.8 339.1,364.8 339.1,374.3 343.3,380.5 340.2,390 351.7,388.9 364.3,384.7 367.5,374.3 368.5,357.5 362.2,340.7 355.9,323.9 349.6,317.6 345.4,302.9 349.6,288.2 346.5,273.6 341.2,263.1 330.8,267.3 323.4,261 330.8,258.9 343.3,255.1 348.6,256.8 351.7,263.1 360.1,267.3 368.5,275.7 374.8,274.6 381.1,277.8 381.1,286.2 391.6,290.3 397.9,298.7 404.2,309.2 413.6,307.1 421,319.7 426.2,332.3 427.2,340.7 433.5,357.5 439.8,374.3 435.6,382.6 421,384.7 414.7,370.1 412.6,361.7 402.1,349.1 395.8,343.8 391.6,353.3 383.2,368 389.5,374.3 385.3,386.8 379,399.4 374.8,407.8 383.2,418.3 391.6,428.8 389.5,439.3 387.4,449.8 387.4,470.8 393.7,474.9 402.1,479.1 414.7,485.4 425.2,481.2 431.4,485.4 437.7,495.9 444,506.4 448.2,514.8 456.6,525.3 452.4,527.4 439.8,523.2 427.2,529.5 418.9,528.4 414.7,525.3 402.1,521.1 393.7,512.7 387.4,505.4 381.1,508.5 370.6,516.9 364.3,529.5 362.2,544 366.4,536.3 360.1,542.6 349.6,546.8 341.2,553.1 338.1,565.7 330.8,559.4 320.3,563.6 307.7,567.8 293,569.9 286.7,563.6 282.5,553.1 278.3,542.6 272,532.1 265.7,536.3 255.2,540.5 246.8,530 238.5,537.9 230.1,531.6 223.8,523.2 217.5,514.8 213.3,504.3 209.1,495.9 202.8,487.5 194.4,479.1 183.9,470.8 175.5,467.6 170.3,466.6 169.2,456.1" fill="none" stroke="#5e5e4e" stroke-width="1.3" stroke-linejoin="round" stroke-linecap="round" opacity="0.75"/>
<polyline points="426.2,332.3 435.6,340.7 446.1,351.2 454.5,359.6 465,370.1 471.3,382.6 472.3,382.6 480.7,379.5 497.5,380.5 503.8,391 514.3,395.2 524.7,394.2 537.3,397.3 531,405.7 535.2,412 530,420.4 531,426.7 522.6,437.2 514.3,445.6 510.1,456.1 514.3,462.4 520.5,470.8 526.8,481.2 528.9,491.7 539.4,495.9 549.9,500.1 554.1,495.9 573,493.8 589.8,490.7 598.2,485.4 594,477 598.2,472.9 606.6,474.9 617,478.1 631.7,474.9 644.3,477 652.7,485.4 667.4,489.6 680,490.7 692.6,487.5 701,490.7 709.3,487.5 715.6,483.3 726.1,485.4 732.4,498 734.5,510.6 732.4,523.2 735.6,531.6 732.4,535.8 719.8,535.8 707.2,531.6 692.6,529.5 688.4,535.8 688.4,544 688.4,538.4 682.1,548.9 677.9,553.1 683.1,557.3 686.3,565.7 677.9,574.1 675.8,582.4 667.4,586.6 659,599.2 648.5,603.4 650.6,613.9 644.3,620.2 631.7,626.5 612.9,628.6 608.7,634.9 617,643.3 619.1,653.8 610.8,655.9 602.4,651.7 598.2,643.3 589.8,637 591.9,628.6 585.6,620.2 579.3,609.7 581.4,599.2 587.7,584.5 583.5,576.2 577.2,569.9 562.5,569.9 554.1,561.5 547.8,553.1 539.4,557.3 536.3,566.7 531,572 516.4,568.8 503.8,578.2 496.4,583.5 491.2,586.6 482.8,591.9 478.6,587.7 470.2,590.8 459.7,581.4 447.1,585.6 436.6,586.6 432.4,579.3 422,575.1 407.3,565.7 410.5,555.2 404.2,542.6 406.3,530 406.3,544 410.5,533.7 418.9,528.4 427.2,529.5 439.8,523.2 452.4,527.4 456.6,525.3 448.2,514.8 444,506.4 437.7,495.9 431.4,485.4 425.2,481.2 414.7,485.4 402.1,479.1 393.7,474.9 387.4,470.8 387.4,449.8 389.5,439.3 391.6,428.8 383.2,418.3 374.8,407.8 379,399.4 385.3,386.8 389.5,374.3 383.2,368 391.6,353.3 395.8,343.8 402.1,349.1 412.6,361.7 414.7,370.1 421,384.7 435.6,382.6 439.8,374.3 433.5,357.5 427.2,340.7 426.2,332.3" fill="none" stroke="#5e5e4e" stroke-width="1.3" stroke-linejoin="round" stroke-linecap="round" opacity="0.75"/>
<polyline points="510.1,456.1 516.4,451.9 526.8,446.6 539.4,445.6 547.8,446.6 554.1,441.4 566.7,442.4 581.4,447.7 589.8,456.1 598.2,462.4 594,477 598.2,485.4 589.8,490.7 573,493.8 554.1,495.9 549.9,500.1 539.4,495.9 528.9,491.7 526.8,481.2 520.5,470.8 514.3,462.4 510.1,456.1" fill="none" stroke="#5e5e4e" stroke-width="1.3" stroke-linejoin="round" stroke-linecap="round" opacity="0.75"/>
<polyline points="408.3,565.7 414.6,572 418.8,584.5 416.7,599.2 423,607.6 427.2,613.9 433.5,609.7 439.8,622.3 446.1,630.7 454.5,637 460.8,647.5 469.2,658 475.4,660.1 488,655.9 500.6,651.7 511.1,649.6 517.4,643.3 523.7,647.5 526.8,637 540.5,632.8 547.8,631.7 561.5,633.8 569.8,624.4 574,628.6 580.3,634.9 582.4,647.5 588.7,660.1 589.8,672.6 580.3,674.7 567.7,669.5 561.5,672.6 569.8,685.2 576.1,695.7 579.3,712.5 587.7,716.7 589.8,731.4 590.8,748.2 586.6,760.8 589.8,775.4 591.9,781.7 608.7,784.9 627.5,783.8 640.1,787 652.7,792.2 654.8,781.7 659,775.4 661.1,764.9 663.2,756.6 652.7,752.4 642.2,744 644.3,731.4 648.5,725.1 640.1,718.8 635.9,712.5 642.2,710.4 652.7,716.7 661.1,712.5 669.5,708.3 677.9,706.2 686.3,697.8 692.6,685.2 696.8,666.4 695.7,647.5 692.6,634.9 682.1,624.4 688.4,618.1 690.5,613.9 694.7,609.7 696.8,597.1 698.9,584.5 694.7,572 686.3,565.7" fill="none" stroke="#5e5e4e" stroke-width="1.3" stroke-linejoin="round" stroke-linecap="round" opacity="0.75"/>
<polyline points="169.2,456.1 173.4,441.4 177.6,431.9 181.8,441.4 190.2,449.8 198.6,456.1 207,449.8 209.1,437.2 221.7,433 232.2,428.8 242.6,433 259.4,431.9 265.7,428.8 276.2,428.8 278.3,424.6 285.7,424.6 282.5,416.2 286.7,403.6 295.1,395.2 311.9,397.3 320.3,391 322.4,382.6 326.6,372.2 337,371.1 336,363.8 339.1,364.8 339.1,374.3 343.3,380.5 340.2,390 351.7,388.9 364.3,384.7 367.5,374.3 368.5,357.5 362.2,340.7 355.9,323.9 349.6,317.6 345.4,302.9 349.6,288.2 346.5,273.6 341.2,263.1 330.8,267.3 323.4,261 330.8,258.9 343.3,255.1 348.6,256.8 351.7,263.1 360.1,267.3 368.5,275.7 374.8,274.6 381.1,277.8 381.1,286.2 391.6,290.3 397.9,298.7 404.2,309.2 413.6,307.1 421,319.7 426.2,332.3 435.6,340.7 446.1,351.2 454.5,359.6 465,370.1 471.3,382.6 472.3,382.6 480.7,379.5 497.5,380.5 503.8,391 514.3,395.2 524.7,394.2 537.3,397.3 531,405.7 535.2,412 530,420.4 531,426.7 545.7,422.5 554.1,427.7 564.6,428.8 568.8,425.7 579.3,430.9 596.1,429.8 599.2,418.3 604.5,409.9 621.2,407.8 633.8,404.7 644.3,409.9 654.8,416.2 663.2,412 673.7,415.2 682.1,413.1 688.4,422.5 701,428.8 713.5,425.7 716.7,437.2 717.7,447.7 726.1,454 724,464.5 724,477 715.6,483.3 726.1,485.4 732.4,498 734.5,510.6 732.4,523.2 735.6,531.6 732.4,535.8 719.8,535.8 707.2,531.6 692.6,529.5 688.4,535.8 688.4,544 688.4,538.4 682.1,548.9 677.9,553.1 683.1,557.3 686.3,565.7 694.7,572 698.9,584.5 698.9,601.3 707.2,595 715.6,584.5 724,572 734.5,559.4 745,553.1 749.2,544.7 755.5,540.5 757.6,548.9 763.9,561.5 770.2,580.3 763.9,592.9 757.6,605.5 755.5,613.9 757.6,622.3 763.9,630.7 768.1,622.3 774.4,613.9 787,609.7 795.4,608.7 801.6,613.9 820.5,613.9 841.5,612.9 860.4,613.9 868.8,622.3 873,630.7 870.9,639.1 860.4,643.3 849.9,647.5 841.5,655.9 837.3,664.3 828.9,672.6 822.6,678.9 816.3,685.2 812.1,693.6 801.6,695.7 799.6,704.1 791.2,697.8 782.8,704.1 774.4,702 772.3,706.2 782.8,710.4 791.2,718.8 799.6,727.2 812.1,735.6 824.7,737.7 835.2,744 847.8,752.4 860.4,754.5 870.9,749.2 879.3,756.6 883.5,767 889.8,773.3 883.5,779.6 868.8,775.4 862.5,779.6 849.9,777.5 837.3,785.9 824.7,792.2 818.4,800.6 814.2,811.1 805.8,830.5 801.6,838.9 805.8,845.2 812.1,851.5 822.6,853.6 831,859.9 839.4,872.4 847.8,876.6 849.9,885 845.7,895.5 841.5,906 835.2,912.3 822.6,918.6 816.3,924.9 803.7,929.1 791.2,933.3 787,939.6 793.3,952.2 801.6,962.6 805.8,973.1 812.1,985.7 818.4,998.3 807.9,1006.7 799.6,1017.2 796.4,1029.8 795.4,1042.4 801.6,1052.9 795.4,1065.4 797.5,1078 805.8,1088.5 799.6,1101.1 791.2,1107.4 778.6,1108.4 770.2,1107.4 761.8,1099 751.3,1088.5 738.7,1084.3 736.6,1071.7 736.6,1057 740.8,1042.4 742.9,1027.7 749.2,1015.1 745,1002.5 736.6,994.1 726.1,998.3 720.9,1008.8 724,1021.4 726.1,1031.9 724,1046.6 715.6,1061.2 707.2,1066.5 696.8,1070.7 688.4,1065.4 677.9,1063.3 671.6,1071.7 663.2,1082.2 659,1090.6 665.3,1101.1 661.1,1111.6 652.7,1113.7 648.3,1126 641,1128.1 635.8,1121.8 629.5,1109.2 620,1096.6 611.8,1088.5 603.4,1078 590.8,1067.5 580.3,1059.1 569.8,1057 557.3,1061.2 544.7,1061.2 551,1052.9 555.2,1042.4 557.3,1031.9 555.2,1021.4 548.9,1013 540.5,1017.2 532.1,1015.1 525.8,1006.7 519.5,994.1 511.1,987.8 502.7,992 494.3,994.1 488,985.7 481.7,987.8 475.4,977.3 472.3,966.8 469.2,975.2 462.9,981.5 456.6,989.9 450.3,994.1 446.1,985.7 444,971 435.6,962.6 429.3,952.2 433.5,941.7 428.2,929.1 422,920.7 414.6,920.7 409.4,929.1 401,924.9 388.4,918.6 379,914.4 372.7,924.9 372.7,933.3 381.1,943.8 384.2,954.3 379,960.5 372.7,956.4 366.4,945.9 362.2,933.3 355.9,924.9 343.3,922.8 330.8,927 318.2,934.3 301.4,939.6 296.1,943.8 293,952.2 286.7,943.8 278.3,933.3 272,920.7 265.7,910.2 259.4,899.7 255.2,885 246.8,876.6 238.5,868.2 230.1,859.9 223.8,847.3 228,834.7 225.9,820 230.1,817.4 223.8,806.9 217.5,796.4 209.1,785.9 202.8,775.4 198.6,764.9 200.7,756.6 207,748.2 204.9,737.7 192.3,736.6 188.1,734.5 183.9,725.1 179.7,714.6 176.6,704.1 179.7,695.7 183.9,681 188.1,664.3 190.2,647.5 191.3,630.7 193.4,613.9 195.4,597.1 194.4,582.4 196.5,567.8 193.4,555.2 194.4,542.6 192.3,530 190.2,529.5 183.9,516.9 181.8,504.3 177.6,491.7 172.4,477 170.3,466.6 169.2,456.1" fill="none" stroke="#6a5a4a" stroke-width="1.2" stroke-linejoin="round" stroke-linecap="round" opacity="0.8"/>
<polyline points="232.2,438.2 911,438.2" fill="none" stroke="#000" stroke-width="1.6" stroke-linejoin="round" stroke-linecap="round" />
<polyline points="402.7,438.2 402.7,570.9" fill="none" stroke="#000" stroke-width="1.6" stroke-linejoin="round" stroke-linecap="round" />
<polyline points="432.1,438.2 432.1,477 435.6,487.5 441.9,502.2 446.1,512.7 456.6,525.3 465,533.7 465,530 475.5,538.4 483.9,542.6 481.8,555.2 477.6,567.8 479.7,578.2 475.5,586.6 483.9,590.8 494.4,584.5 500.7,595 507,607.6 511.2,620.2 521.6,626.5 525.8,634.9 540.5,632.8 557.3,630.7 567.8,624.4 572,626.5 580.8,634.9" fill="none" stroke="#000" stroke-width="1.6" stroke-linejoin="round" stroke-linecap="round" />
<polyline points="196.5,561.5 209.1,559.4 219.6,565.7 228,569.9 232.2,582.4 244.7,588.7 257.3,584.5 278.3,586.6 295.1,582.4 311.9,579.3 328.7,574.1 341.2,572 402.7,570.9 412.6,576.2 418.9,584.5 416.8,599.2 408.4,613.9 404.2,624.4 400,628.6 396.8,637 402.1,643.3 405.2,651.7 402.7,660.1 402.7,736.2" fill="none" stroke="#000" stroke-width="1.6" stroke-linejoin="round" stroke-linecap="round" />
<polyline points="192.3,736.6 580.8,736.2" fill="none" stroke="#000" stroke-width="1.6" stroke-linejoin="round" stroke-linecap="round" />
<polyline points="580.8,613.5 580.8,775" fill="none" stroke="#000" stroke-width="1.6" stroke-linejoin="round" stroke-linecap="round" />
<polyline points="581,613.5 788.6,613.5" fill="none" stroke="#000" stroke-width="1.6" stroke-linejoin="round" stroke-linecap="round" />
<polyline points="581,775 788.6,775" fill="none" stroke="#000" stroke-width="1.6" stroke-linejoin="round" stroke-linecap="round" />
<polyline points="788.6,530 788.6,775" fill="none" stroke="#000" stroke-width="1.6" stroke-linejoin="round" stroke-linecap="round" />
<polyline points="788.6,438.2 788.6,530" fill="none" stroke="#000" stroke-width="1.6" stroke-linejoin="round" stroke-linecap="round" />
<polyline points="788.6,573 910.7,573" fill="none" stroke="#000" stroke-width="1.6" stroke-linejoin="round" stroke-linecap="round" />
<polyline points="788.6,695.7 910.7,695.7" fill="none" stroke="#000" stroke-width="1.6" stroke-linejoin="round" stroke-linecap="round" />
<polyline points="640.8,776.5 848.8,776.5 848.8,814.2 910.7,814.2" fill="none" stroke="#000" stroke-width="1.6" stroke-linejoin="round" stroke-linecap="round" />
<polyline points="640.8,775 640.6,1132.9" fill="none" stroke="#000" stroke-width="1.6" stroke-linejoin="round" stroke-linecap="round" />
<polyline points="314,736.6 314,851.5 473.4,1000.4 473.4,966.8 475.5,962.6 483.9,964.7 488.1,958.5 491.2,929.1 491.2,736.6" fill="none" stroke="#000" stroke-width="1.6" stroke-linejoin="round" stroke-linecap="round" />
<polyline points="491.2,929.1 910.7,929.1" fill="none" stroke="#000" stroke-width="1.6" stroke-linejoin="round" stroke-linecap="round" />
<polyline points="848.8,820 848.8,929.1" fill="none" stroke="#000" stroke-width="1.6" stroke-linejoin="round" stroke-linecap="round" />
<polyline points="820.5,929.1 820.5,948 910.7,948" fill="none" stroke="#000" stroke-width="1.6" stroke-linejoin="round" stroke-linecap="round" />
<polyline points="820.5,948 818.2,1109.2 711.2,1110.2 711.2,1117.1 665.1,1117.1 665.1,1132.9 580.2,1132.9 469.1,1092.4 469.1,1086.1" fill="none" stroke="#000" stroke-width="1.6" stroke-linejoin="round" stroke-linecap="round" />
<polyline points="711.2,1110.2 719.6,1121.8 728,1132.2 740.6,1144.8 753.2,1157.4 763.6,1167.9 769.9,1184.2" fill="none" stroke="#000" stroke-width="1.6" stroke-linejoin="round" stroke-linecap="round" />
<polyline points="473.4,1000.4 477.6,1008.8 481.8,1021.4 488.1,1027.7 483.9,1038.2 477.6,1050.8 471.3,1061.2 475.5,1071.7 477.6,1080.1 469.2,1084.7 400,1090.6" fill="none" stroke="#000" stroke-width="1.6" stroke-linejoin="round" stroke-linecap="round" />
<polyline points="400,1090.6 396.8,1086.4 395.8,1078 391.6,1069.6 383.2,1061.2 372.7,1050.8 364.3,1048.7 362.2,1042.4 353.8,1038.2 341.2,1034 332.9,1025.6 322.4,1022.4 307.7,1022.4 295.1,1017.2 297.2,1008.8 293,998.3 284.6,985.7 274.1,975.2 265.7,962.6 257.3,950.1 255.2,939.6 251,929.1 244.7,922.8 242.6,910.2 238.5,899.7 230.1,891.3 225.9,882.9 219.6,874.5 211.2,866.2 202.8,857.8 204.9,847.3 202.8,832.6 198.6,823.7 192.3,817.4 186,806.9 183.9,798.5 188.1,785.9 191.3,773.3 192.3,760.8 189.2,750.3 190.2,739.8 192.3,736.6" fill="none" stroke="#000" stroke-width="1.6" stroke-linejoin="round" stroke-linecap="round" />
<g fill="none" stroke="#000" stroke-width="1.5" stroke-linejoin="round">
<polyline points="232.9,441 233.9,447.3 239.2,449.4 241.3,456.7 239.2,464.1 242.3,470.4 243.4,476.6 240.2,478.7"/>
<polyline points="241.3,489.2 240.2,497.6 242.3,503.9 239.2,510.2 233.9,512.3 230.8,514.4 230.8,519.7 232.9,523.8 233.9,520.7 241.3,514.4 245.5,511.3 243.4,503.9 245.5,495.5 244.4,487.1 241.3,489.2"/>
<polyline points="231.8,492.4 227.6,499.7 223.4,507.1 221.3,511.3 225.5,510.2 228.7,503.9 232.9,495.5 231.8,492.4"/>
<polyline points="219.2,452.5 223.4,450.4 227.6,448.3 228.7,454.6 225.5,459.9 222.4,462 220.3,457.8 219.2,452.5"/>
<polyline points="230.8,454.6 235,455.7 237.1,462 233.9,464.1 231.8,459.9 230.8,454.6"/>
<polyline points="174.1,466.2 181.5,469.3 189.9,474.5 198.3,476.6 208.7,477.2 217.1,477.7 223.4,478.7 229.7,479.8 233.9,478.7"/>
<polyline points="174.1,466.2 176.2,478.7 180.4,491.3 184.6,503.9 186.7,514.4 190.9,524.9 192,535.4 194.1,545.9 193,556.4 196.2,566.9"/>
</g>
<polygon points="307.7,1040.3 311.9,1038.2 316.1,1040.3 311.9,1042.4" fill="none" stroke="#000" stroke-width="1.6"/>
<polygon points="318.2,1038.6 324.5,1037.1 327.6,1039.2 321.3,1040.7" fill="none" stroke="#000" stroke-width="1.6"/>
<polygon points="357,1058.1 362.2,1059.1 365.4,1063.3 360.1,1062.3" fill="none" stroke="#000" stroke-width="1.6"/>
<polygon points="355.9,1072.8 359.1,1073.8 363.3,1081.2 360.1,1081.2" fill="none" stroke="#000" stroke-width="1.6"/>
<polygon points="326.1,1064.4 329.7,1064.4 330.8,1067.1 327.2,1066.7" fill="none" stroke="#000" stroke-width="1.6"/>
</g>
<g class="pl" font-size="12.2" stroke-width="3.3" text-anchor="middle">
<text x="337.7" y="451.7">60%</text>
<text x="436.3" y="426.5">73%</text>
<text x="501.7" y="421.9">73%</text>
<text x="634.9" y="443.7">0%</text>
<text x="559.4" y="472">90%</text>
<text x="245.4" y="489.2">58%</text>
<text x="411.5" y="508.3">63%</text>
<text x="491.2" y="508.3">81%</text>
<text x="627.5" y="501.4">76%</text>
<text x="202.4" y="529.3">48%</text>
<text x="293" y="542.7">50%</text>
<text x="567.4" y="532.2">81%</text>
<text x="652.7" y="536.9">86%</text>
<text x="241" y="566.9">44%</text>
<text x="203.4" y="592.7">17%</text>
<text x="330.8" y="589.4">36%</text>
<text x="393.4" y="583.7">34%</text>
<text x="444.3" y="562.1">72%</text>
<text x="549.2" y="606.4">66%</text>
<text x="623.4" y="604">83%</text>
<text x="717.1" y="609.5">42%</text>
<text x="476.5" y="629.2">69%</text>
<text x="235.3" y="631.3">9%</text>
<text x="280" y="641.8">13%</text>
<text x="328" y="629.2">1%</text>
<text x="392.8" y="629.2">14%</text>
<text x="788" y="631.3">0%</text>
<text x="720.3" y="654.4">27%</text>
<text x="661.1" y="665.9">64%</text>
<text x="593" y="684.6">65%</text>
<text x="794.3" y="680.2">0%</text>
<text x="511.8" y="691.9">46%</text>
<text x="416.5" y="700.1">40%</text>
<text x="212.2" y="706.8">9%</text>
<text x="327.6" y="708.1">13%</text>
<text x="268.9" y="729.5">4%</text>
<text x="731.4" y="735.4">39%</text>
<text x="560.6" y="739.6">35%</text>
<text x="577.8" y="758.9">44%</text>
<text x="617.9" y="755.5">54%</text>
<text x="565.7" y="775">18%</text>
<text x="271.6" y="776.1">8%</text>
<text x="348" y="770.4">0%</text>
<text x="298.2" y="794.5">10%</text>
<text x="416.2" y="792">0%</text>
<text x="514" y="786.1">8%</text>
<text x="675.8" y="799.1">29%</text>
<text x="559.9" y="810.3">15%</text>
<text x="774.8" y="809.2">35%</text>
<text x="332.4" y="824.5">13%</text>
<text x="600.5" y="833.9">19%</text>
<text x="704.1" y="835.9">26%</text>
<text x="264.7" y="840.1">9%</text>
<text x="348.6" y="840.8">15%</text>
<text x="343.3" y="869.5">34%</text>
<text x="419.9" y="884.6">6%</text>
<text x="302.4" y="904.7">26%</text>
<text x="360.8" y="917.3">47%</text>
<text x="533.2" y="870.6">8%</text>
<text x="634.7" y="877">4%</text>
<text x="687.3" y="874.7">15%</text>
<text x="792.2" y="889.9">11%</text>
<text x="581" y="897.2">0%</text>
<text x="725.7" y="906.8">9%</text>
<text x="619.8" y="932.4">0%</text>
<text x="672.6" y="946.1">10%</text>
<text x="502.2" y="949.4">15%</text>
<text x="731.4" y="958">9%</text>
<text x="779.2" y="972.3">1%</text>
<text x="597.3" y="998.1">12%</text>
<text x="538" y="1007.3">5%</text>
<text x="692.6" y="1018.9">1%</text>
<text x="582" y="1048.2">7%</text>
<text x="769.1" y="1051.6">1%</text>
<text x="636.5" y="1084.1">4%</text>
</g>
<g fill="none" stroke="#1a1a1a">
<rect x="104.4" y="176.3" width="807" height="1058.4" stroke-width="1.8"/>
<line x1="103.4" y1="242.6" x2="912.4" y2="242.6" stroke-width="2"/>
<line x1="103.4" y1="1184.2" x2="912.4" y2="1184.2" stroke-width="2"/>
<line x1="362.6" y1="176" x2="362.6" y2="242.6" stroke-width="1.3"/>
<line x1="651.6" y1="176" x2="651.6" y2="242.6" stroke-width="1.3"/>
</g>
<text x="232.8" y="214.2" font-size="16.8" font-weight="normal" fill="#222" text-anchor="middle"  textLength="172.3" lengthAdjust="spacingAndGlyphs">Snow Water Equivalent</text>
<text x="507" y="204.6" font-size="24.6" font-weight="normal" fill="#222" text-anchor="middle"  textLength="214.8" lengthAdjust="spacingAndGlyphs">Westwide SNOTEL</text>
<text x="507.2" y="232.2" font-size="16.8" font-weight="normal" fill="#222" text-anchor="middle"  textLength="253.6" lengthAdjust="spacingAndGlyphs">Percent NRCS 1991-2020 Median</text>
<text x="780.8" y="214.2" font-size="16.8" font-weight="normal" fill="#222" text-anchor="middle"  textLength="203.5" lengthAdjust="spacingAndGlyphs">March 30, 2026, end of day</text>
<rect x="114.5" y="922.2" width="119.2" height="251.2" fill="#fff" stroke="#333" stroke-width="1.3"/>
<text x="124.6" y="939.8" font-size="10.3" font-weight="bold" fill="#111" text-anchor="start"  textLength="67.6" lengthAdjust="spacingAndGlyphs">Percent NRCS</text>
<text x="124.6" y="952.4" font-size="10.3" font-weight="bold" fill="#111" text-anchor="start"  textLength="85.2" lengthAdjust="spacingAndGlyphs">1991-2020 Median</text>
<rect x="124.9" y="962.1" width="28.2" height="9.8" fill="#3a3af0" stroke="#222" stroke-width="1.1"/>
<text x="158.6" y="970.8" font-size="10.3" font-weight="normal" fill="#222" text-anchor="start"  textLength="34.5" lengthAdjust="spacingAndGlyphs">≥ 150%</text>
<rect x="124.9" y="980.6" width="28.2" height="9.8" fill="#38a9ee" stroke="#222" stroke-width="1.1"/>
<text x="158.6" y="989.3" font-size="10.3" font-weight="normal" fill="#222" text-anchor="start"  textLength="65.7" lengthAdjust="spacingAndGlyphs">130% to 149%</text>
<rect x="124.9" y="999.1" width="28.2" height="9.8" fill="#8cfbe4" stroke="#222" stroke-width="1.1"/>
<text x="158.6" y="1007.8" font-size="10.3" font-weight="normal" fill="#222" text-anchor="start"  textLength="65.7" lengthAdjust="spacingAndGlyphs">110% to 129%</text>
<rect x="124.9" y="1017.6" width="28.2" height="9.8" fill="#6fe23a" stroke="#222" stroke-width="1.1"/>
<text x="158.6" y="1026.3" font-size="10.3" font-weight="normal" fill="#222" text-anchor="start"  textLength="60.3" lengthAdjust="spacingAndGlyphs">90% to 109%</text>
<rect x="124.9" y="1036.1" width="28.2" height="9.8" fill="#ebe535" stroke="#222" stroke-width="1.1"/>
<text x="158.6" y="1044.8" font-size="10.3" font-weight="normal" fill="#222" text-anchor="start"  textLength="54.7" lengthAdjust="spacingAndGlyphs">70% to 89%</text>
<rect x="124.9" y="1054.6" width="28.2" height="9.8" fill="#eea534" stroke="#222" stroke-width="1.1"/>
<text x="158.6" y="1063.3" font-size="10.3" font-weight="normal" fill="#222" text-anchor="start"  textLength="54.7" lengthAdjust="spacingAndGlyphs">50% to 69%</text>
<rect x="124.9" y="1073.1" width="28.2" height="9.8" fill="#ea3537" stroke="#222" stroke-width="1.1"/>
<text x="158.6" y="1081.8" font-size="10.3" font-weight="normal" fill="#222" text-anchor="start"  textLength="29.3" lengthAdjust="spacingAndGlyphs">&lt; 50%</text>
<rect x="124.9" y="1091.6" width="28.2" height="9.8" fill="#ffffff" stroke="#222" stroke-width="1.1"/>
<text x="158.6" y="1100.3" font-size="10.3" font-weight="normal" fill="#222" text-anchor="start"  textLength="66.9" lengthAdjust="spacingAndGlyphs">No basin value</text>
<text x="124.6" y="1118" font-size="10.3" font-weight="bold" fill="#111" text-anchor="start"  textLength="109.1" lengthAdjust="spacingAndGlyphs">Watershed Boundaries</text>
<line x1="124.6" y1="1129.6" x2="139.9" y2="1129.6" stroke="#777" stroke-width="1.4"/>
<text x="145.7" y="1132.8" font-size="10.3" font-weight="normal" fill="#222" text-anchor="start"  textLength="61.7" lengthAdjust="spacingAndGlyphs">Basin (HUC6)</text>
<text x="124.6" y="1151.6" font-size="10.3" font-weight="bold" fill="#111" text-anchor="start"  textLength="96.2" lengthAdjust="spacingAndGlyphs">Political Boundaries</text>
<line x1="124.6" y1="1163.2" x2="139.9" y2="1163.2" stroke="#000" stroke-width="1.8"/>
<text x="145.7" y="1166.4" font-size="10.3" font-weight="normal" fill="#222" text-anchor="start"  textLength="77.4" lengthAdjust="spacingAndGlyphs">State Boundaries</text>
<g transform="translate(117.6,1193.4) scale(0.62)"><text x="-1.2" y="25.2" font-family="'Liberation Serif', serif" font-size="38" fill="#1f4e8c" stroke="#1f4e8c" stroke-width="0.7" textLength="82.5" lengthAdjust="spacingAndGlyphs" letter-spacing="-2">USDA</text><path d="M0,46.1 C12,42.5 25,39.8 37.4,38.4 C45,37.2 52,36.3 58.4,36 L81.4,34.9 L81.4,58.3 L0,58.3 Z" fill="#0b6340"/><path d="M81.4,28.3 L58.4,28.3 C52,28.8 48,29.6 44,30.4 C39,31.3 34,32.4 30.4,33.5 C25,35 20,37 16.4,38.4 L0,42.6 L0,44.4 L9.4,41.6 C14,40.2 19,38.8 23.4,37.7 C28,36.4 33,35.1 37.4,34.2 C44,33 51,32.2 58.4,31.8 L81.4,31.4 Z" fill="#0e5a3c"/><path d="M0,28.3 L22,31.4 L25.5,33 L0,32.1 Z" fill="#2c6b4d"/><path d="M0,33.8 L20,34.9 L14,37.4 L0,38.1 Z" fill="#2c6b4d"/><text x="96.8" y="14" font-size="17.6" fill="#3a6299" textLength="141.9" lengthAdjust="spacingAndGlyphs">Natural Resources</text><text x="96.8" y="31.6" font-size="17.6" fill="#3a6299" textLength="162.8" lengthAdjust="spacingAndGlyphs">Conservation Service</text><text x="96.8" y="56.6" font-size="15.6" font-weight="bold" fill="#27579a" textLength="297" lengthAdjust="spacingAndGlyphs">United States Department of Agriculture</text></g>
<g transform="translate(506.8,1192.6) scale(0.62)"><text x="0" y="13.4" font-size="18" text-anchor="middle" fill="#111">N</text><path d="M0,18.5 L-12.8,58.6 L0,46.8 L12.8,58.6 Z" fill="#000"/><path d="M0.9,24.5 L0.9,45.6 L10.3,54.2 Z" fill="#fff"/></g>
<rect x="571.2" y="1194.7" width="298.3" height="5" fill="#000"/>
<rect x="583.132" y="1195.8" width="11.932" height="2.9" fill="#fff"/>
<rect x="606.996" y="1195.8" width="11.932" height="2.9" fill="#fff"/>
<rect x="630.86" y="1195.8" width="59.66" height="2.9" fill="#fff"/>
<rect x="750.18" y="1195.8" width="59.66" height="2.9" fill="#fff"/>
<text x="571.2" y="1213" font-size="11.4" font-weight="normal" fill="#111" text-anchor="middle" >0</text>
<text x="601.03" y="1213" font-size="11.4" font-weight="normal" fill="#111" text-anchor="middle" >50</text>
<text x="630.86" y="1213" font-size="11.4" font-weight="normal" fill="#111" text-anchor="middle" >100</text>
<text x="690.52" y="1213" font-size="11.4" font-weight="normal" fill="#111" text-anchor="middle" >200</text>
<text x="750.18" y="1213" font-size="11.4" font-weight="normal" fill="#111" text-anchor="middle" >300</text>
<text x="809.84" y="1213" font-size="11.4" font-weight="normal" fill="#111" text-anchor="middle" >400</text>
<text x="869.5" y="1213" font-size="11.4" font-weight="normal" fill="#111" text-anchor="middle" >500</text>
<text x="875.8" y="1201.2" font-size="11" font-weight="normal" fill="#111" text-anchor="start"  textLength="26.2" lengthAdjust="spacingAndGlyphs">Miles</text>
<text x="904.3" y="1230.8" font-size="11" font-weight="normal" fill="#111" text-anchor="end"  textLength="94.3" lengthAdjust="spacingAndGlyphs">Created 3-31-2026</text>
</g>
<g id="rightmap">
<rect x="1291.6" y="393.6" width="964" height="707.6" fill="#e4e6d4"/>
<g clip-path="url(#rbase)">
<rect x="1292" y="394" width="964" height="707" fill="#fff" filter="url(#tex)" opacity="0.35"/>
<g fill="none" stroke="#e6d2c5" stroke-width="1.6" opacity="0.85">
<polyline points="2227,394 2226,470 2230,550 2225,640 2228,720 2222,800 2224,864"/>
<polyline points="2120,466 2180,468 2255,466"/>
<polyline points="2085,546 2150,548 2200,552 2255,548"/>
<polyline points="2060,622 2120,626 2190,622 2255,624"/>
<polyline points="2090,702 2160,704 2255,700"/>
<polyline points="2180,778 2225,776 2255,778"/>
<polyline points="2212,790 2214,864"/>
<polyline points="2140,1035 2177,1033 2255,1036"/>
<polyline points="2177,980 2176,1040 2178,1101"/>
<polyline points="2130,1040 2132,1070"/>
<polyline points="1300,560 1330,580 1350,640 1340,700"/>
<polyline points="1300,860 1330,880 1345,930 1350,980"/>
<polyline points="1300,950 1330,990 1360,1010"/>
</g>
<g fill="#d6dec8" opacity="0.5" style="filter:blur(9px)">
<ellipse cx="1330" cy="470" rx="30" ry="50"/>
<ellipse cx="1320" cy="660" rx="24" ry="40"/>
<ellipse cx="1335" cy="900" rx="26" ry="60"/>
<ellipse cx="1310" cy="1040" rx="18" ry="40"/>
<ellipse cx="2130" cy="560" rx="40" ry="30"/>
<ellipse cx="2170" cy="900" rx="40" ry="50"/>
</g>
</g>
<rect x="1292.6" y="394.6" width="962" height="705.6" fill="none" stroke="#dcd6c6" stroke-width="3" opacity="0.8"/>
<polygon points="1901.9,498.7 1908.9,491.7 1916,498.7 1920.7,503.4 1927.7,496.4 1939.4,484.6 1946.5,470.6 1955.9,461.2 1962.9,451.8 1961.7,437.7 1967.6,430.7 1977,426 1984,416.6 1998.1,409.5 2012.2,407.2 2023.9,396.6 2045,393.1 2068.5,396.6 2080.2,403.7 2096.6,402.5 2113.1,400.2 2120.1,392 2138.9,387.3 2150.6,382.6 2169.4,383.7 2183.5,379 2197.5,386.1 2206.9,395.5 2209.3,402.5 2202.2,414.2 2185.8,421.3 2174.1,430.7 2162.3,437.7 2148.3,444.7 2138.9,454.1 2124.8,465.9 2117.8,475.2 2115.4,487 2108.4,498.7 2106,512.8 2107.2,526.9 2096.6,536.3 2087.3,548 2082.6,562.1 2079,576.1 2080.2,590 2080.2,593.5 2077.9,616.9 2073.2,631 2063.8,640.4 2049.7,652.1 2040.3,663.9 2030.9,675.6 2016.9,685 2028.6,689.7 2038,699 2052.1,706.1 2068.5,713.1 2077.9,722.5 2087.3,734.2 2101.3,743.6 2115.4,747.1 2138.9,746 2153,750.7 2167,757.7 2181.1,764.7 2188.1,776.5 2185.8,790.6 2195.2,804.6 2202.2,818.7 2211.6,835.1 2218.6,851.6 2223.3,862.1 2244.5,860.9 2255,863.3 2259.7,875 2258.5,891.4 2262.1,903.2 2256.2,913.5 2256.2,925.2 2246.8,934.6 2239.8,948.7 2237.4,962.7 2223.3,979.2 2209.3,986.2 2190.5,988.5 2181.1,995.6 2162.3,997.9 2148.3,1007.3 2138.9,1016.7 2129.5,1028.4 2120.1,1040.2 2106,1049.5 2099,1054.2 2087.3,1051.9 2075.5,1054.2 2021.6,960.4 1927.7,804.6 1845.6,722.5 1833.9,640.4 1805.7,616.9 1805.7,584.1 1833.9,508.1" fill="#8d8d89" />
<polyline points="2016.9,685 1993.4,703.7 1962.9,722.5 1927.7,738.9" fill="none" stroke="#a9a9a5" stroke-width="1.6" stroke-linejoin="round" stroke-linecap="round" />
<polygon points="1291.6,489.3 1298.7,478.8 1315.1,464.7 1333.9,467 1347.9,470.6 1357.3,461.2 1355,444.7 1350.3,435.4 1355,426 1371.4,414.2 1378.4,400.2 1380.8,381.4 1390.2,362.6 1380.8,346.2 1392.5,320.4 1399.5,299.3 1404.2,300.4 1396.7,288.7 1416,282.8 1421.8,274.6 1434.7,278.2 1440.6,288.7 1448.8,301.6 1460.6,293.4 1474.6,289.4 1498.1,295.8 1501.6,289.9 1514.5,294.6 1527.4,294.6 1529.8,306.3 1527.4,315.7 1538,320.4 1545,320.4 1552.1,333.3 1549.7,339.2 1559.1,350.9 1567.3,360.3 1575.5,362.6 1574.4,369.7 1584.9,376.7 1591.9,380.2 1597.8,388.4 1606,383.7 1615.4,382.6 1622.4,377.9 1638.9,386.1 1645.9,393.1 1649.4,409.5 1662.3,407.2 1674.1,402.5 1685.8,404.9 1692.8,409.5 1699.9,397.8 1714,392 1722.2,396.6 1725.7,406 1735.1,414.2 1738.6,422.5 1742.1,414.2 1743.3,402.5 1756.2,393.1 1763.2,387.3 1784.3,380.2 1785.5,360.3 1787.9,353.2 1791.4,361.5 1798.4,372 1803.1,381.4 1822.1,383.7 1833.9,390.8 1844.4,394.3 1846.8,404.9 1852.6,411.9 1857.3,423.6 1864.4,435.4 1865.5,444.7 1874.9,454.1 1880.8,463.5 1890.2,472.9 1892.5,484.6 1901.9,494 1899.5,499.9 1890.2,503.4 1878.4,505.7 1876.1,515.1 1867.9,522.2 1864.4,531.6 1864.4,545.6 1857.3,559.7 1850.3,569.1 1843.2,580.8 1833.9,590 1817.4,593.5 1812.7,600.5 1822.1,605.2 1833.9,600.5 1845.6,602.8 1852.6,607.5 1847.9,616.9 1855,626.3 1862,638 1866.7,649.8 1862,663.9 1869,675.6 1873.7,692 1869,710.8 1873.7,722.5 1880.8,736.6 1890.2,743.6 1904.2,741.3 1918.3,738.9 1927.7,743.6 1937.1,750.7 1944.1,757.7 1953.5,771.8 1948.8,783.5 1951.2,792.9 1960.6,804.6 1969.9,814 1979.3,825.7 1988.7,839.8 1998.1,851.6 2009.8,865.6 2021.6,875 2030.9,884.4 2035.6,898.5 2038,910 2035.6,913.5 2042.7,922.8 2052.1,920.5 2063.8,914.6 2077.9,918.2 2087.3,925.2 2096.6,918.2 2101.3,927.5 2094.3,941.6 2091.9,958 2084.9,969.8 2075.5,983.9 2073.2,1007.3 2077.9,1026.1 2073.2,1040.2 2075.5,1054.2 2068.5,1063.6 2056.8,1070.7 2042.7,1077.7 2026.3,1081.2 2023.9,1089.4 2016.9,1098.8 2002.8,1105.9 1988.7,1112.9 1977,1122.3 1965.2,1121.1 1953.5,1115.2 1944.1,1121.1 1948.8,1115.2 1946.5,1105.9 1937.1,1096.5 1927.7,1095.3 1918.3,1101.2 1899.5,1105.9 1885.5,1111.7 1866.7,1108.2 1847.9,1103.5 1833.9,1097.6 1822.1,1094.1 1817.4,1101.2 1819.8,1112.9 1816.3,1124.6 1818.6,1138.7 1817.4,1150.4 1803.4,1150.4 1794,1143.4 1784.6,1134 1779.9,1122.3 1765.8,1117.6 1754.1,1115.2 1749.4,1103.5 1739.8,1110.6 1732.7,1122.3 1721,1129.3 1706.9,1136.4 1697.5,1138.7 1685.8,1143.4 1676.4,1136.4 1667,1127 1662.3,1115.2 1660,1104.7 1653,1108.2 1648.3,1101.2 1641.2,1089.4 1636.5,1080.1 1627.1,1082.4 1624.8,1089.4 1617.8,1096.5 1610.7,1108.2 1615.4,1121.1 1606,1124.6 1596.6,1131.7 1582.6,1141.1 1577.9,1152.8 1573.2,1162.2 1554.4,1163.3 1540.3,1162.2 1526.3,1164.5 1514.5,1166.9 1500.4,1157.5 1488.7,1152.8 1474.6,1149.3 1462.9,1150.4 1460.6,1162.2 1451.2,1176.3 1444.1,1185.6 1453.5,1192.7 1451.2,1202.1 1460.6,1213.8 1455.9,1223.2 1441.8,1216.1 1423,1206.8 1408.9,1204.4 1399.5,1197.4 1390.2,1180.9 1380.8,1164.5 1371.4,1152.8 1362,1148.1 1347.9,1145.7 1333.9,1155.1 1319.8,1169.2 1310.4,1178.6 1301,1192.7 1286.9,1199.7 1270.5,1192.7 1258.8,1185.6 1261.1,1178.6 1259.9,1164.5 1263.5,1151.6 1277.5,1141.1 1286.9,1122.3 1294,1110.6 1301,1098.8 1310.4,1084.7 1319.8,1073 1324.5,1058.9 1340.9,1054.2 1352.6,1056.6 1371.4,1051.9 1378.4,1042.5 1380.8,1028.4 1371.4,1021.4 1355,1014.4 1350.3,1005 1343.2,1000.3 1333.9,995.6 1326.8,986.2 1328,972.1 1322.1,967.4 1315.1,960.4 1317.4,946.3 1310.4,940.4 1294,940.4 1284.6,935.8 1291.6,929.9 1282.2,918.2 1275.2,904.1 1270.5,903.2 1263.5,889.1 1265.8,875 1261.1,860.9 1263.5,851.6 1277.5,850.4 1289.3,846.9 1301,855.1 1315.1,862.1 1322.1,860.9 1333.9,851.6 1343.2,846.9 1350.3,842.2 1347.9,828.1 1340.9,811.7 1345.6,795.2 1340.9,783.5 1330.3,778.8 1329.2,774.1 1340.9,769.4 1333.9,755.4 1331.5,743.6 1319.8,737.8 1305.7,741.3 1284.6,736.6 1289.3,724.9 1295.1,706.1 1290.4,689.7 1283.4,680.3 1284.6,667.4 1294,663.9 1301,652.1 1310.4,645.1 1333.9,645.1 1350.3,635.7 1362,629.8 1380.8,635.7 1394.9,638 1413.6,634.5 1427.7,636.9 1441.8,633.4 1444.1,624 1452.3,616.9 1451.2,607.5 1441.8,600.5 1434.7,587.6 1425.4,584.1 1416,578.5 1404.2,564.4 1392.5,557.4 1383.1,545.6 1378.4,531.6 1385.5,517.5 1380.8,508.1 1366.7,508.1 1352.6,502.2 1338.5,496.4 1329.2,499.9 1319.8,510.4 1310.4,516.3 1296.3,505.7" fill="#e92d2a" />
<polygon points="1754.1,1091.8 1756.4,1082.4 1763.5,1075.4 1770.5,1073 1765.8,1080.1 1759.9,1087.1" fill="#f4f4f0" />
<polyline points="1589.6,390.8 1591.9,402.5 1606,411.9 1618.9,418.9 1621.3,437.7 1615.4,456.5 1617.8,475.2 1622.4,496.4 1624.8,508.1 1629.5,522.2 1624.8,538.6 1615.4,552.7 1606,550.3 1601.3,562.1 1577.9,566.8 1552.1,578.5 1547.4,590 1545,579.4 1535.6,593.5 1533.3,614.6 1514.5,618.1 1498.1,605.2 1484,609.9 1465.2,614.6 1451.2,616.9" fill="none" stroke="#8f6f66" stroke-width="3.2" stroke-linejoin="round" stroke-linecap="round" opacity="0.78"/>
<polyline points="1738.6,422.5 1737.4,437.7 1730.4,454.1 1725.7,465.9 1723.3,484.6 1732.7,487 1739.8,498.7 1749.2,515.1 1756.2,526.9 1760.9,545.6 1759.7,564.4 1756.2,590 1753.8,588.8 1744.5,605.2 1730.4,614.6 1725.7,628.7 1742.1,638 1739.8,649.8 1723.3,661.5 1714,675.6 1699.9,685 1674.1,687.3 1650.6,689.7 1643.6,701.4 1642.4,720.2 1638.9,734.2 1629.5,743.6" fill="none" stroke="#8f6f66" stroke-width="3.2" stroke-linejoin="round" stroke-linecap="round" opacity="0.78"/>
<polyline points="1622.4,496.4 1638.9,508.1 1653,512.8 1685.8,514 1709.3,510.4 1721,498.7 1723.3,484.6" fill="none" stroke="#8f6f66" stroke-width="3.2" stroke-linejoin="round" stroke-linecap="round" opacity="0.78"/>
<polyline points="1340.9,769.4 1343.2,757.7 1347.9,743.6 1371.4,750.7 1404.2,746 1427.7,743.6 1462.9,744.8 1479.3,734.2 1498.1,720.2 1516.9,706.1 1526.3,715.5 1533.3,734.2 1535.6,746 1552.1,751.8 1573.2,750.7 1591.9,748.3 1606,743.6 1624.8,741.3 1636.5,750.7 1648.3,762.4 1662.3,769.4" fill="none" stroke="#8f6f66" stroke-width="3.2" stroke-linejoin="round" stroke-linecap="round" opacity="0.78"/>
<polyline points="1662.3,769.4 1657.6,781.2 1653,795.2 1650.6,809.3 1660,823.4 1664.7,839.8 1674.1,856.3 1678.8,868 1662.3,872.7 1643.6,875 1634.2,886.8 1624.8,904.1 1610.7,918.2 1601.3,932.2 1580.2,934.6 1556.8,936.9 1521.6,944 1500.4,948.7" fill="none" stroke="#8f6f66" stroke-width="3.2" stroke-linejoin="round" stroke-linecap="round" opacity="0.78"/>
<polyline points="1678.8,868 1692.8,853.9 1704.6,846.9 1718.6,863.3 1732.7,882.1 1746.8,898.5 1756.2,904.1 1765.6,920.5 1777.3,936.9 1789,951 1790.2,967.4 1782,988.5 1784.3,1000.3 1786.7,1021.4 1779.7,1042.5 1775,1058.9 1777.3,1070.7 1765.6,1075.4 1756.2,1084.7 1753.8,1094.1" fill="none" stroke="#8f6f66" stroke-width="3.2" stroke-linejoin="round" stroke-linecap="round" opacity="0.78"/>
<polyline points="1784.3,1000.3 1803.1,993.2 1821.9,990.9 1784.6,993.2 1801,988.5 1815.1,993.2 1822.1,1002.6 1826.8,1021.4 1826.8,1040.2 1822.1,1058.9 1820.9,1077.7 1819.8,1094.1" fill="none" stroke="#8f6f66" stroke-width="3.2" stroke-linejoin="round" stroke-linecap="round" opacity="0.78"/>
<polyline points="1685.8,687.3 1687,710.8 1685.8,734.2 1688.1,753 1699.9,760.1 1714,767.1 1723.3,781.2 1744.5,781.2 1779.7,776.5 1803.1,771.8 1826.6,757.7 1833.9,757.7 1843.2,738.9 1850.3,729.5 1869,728.4" fill="none" stroke="#8f6f66" stroke-width="3.2" stroke-linejoin="round" stroke-linecap="round" opacity="0.78"/>
<polyline points="1662.3,769.4 1674.1,767.1 1688.1,755.4" fill="none" stroke="#8f6f66" stroke-width="3.2" stroke-linejoin="round" stroke-linecap="round" opacity="0.78"/>
<polyline points="1350.3,842.2 1371.4,851.6 1392.5,860.9 1408.9,872.7 1425.4,884.4 1439.4,898.5 1446.5,908.8 1458.2,927.5 1469.9,939.3 1484,944 1498.1,941.6 1500.4,955.7 1496.9,972.1 1505.1,983.9 1516.9,983.9 1528.6,981.5 1540.3,990.9 1547.4,1000.3 1568.5,1005 1584.9,1007.3 1594.3,1019 1608.4,1026.1 1617.8,1035.5 1613.1,1047.2 1620.1,1058.9 1627.1,1073 1629.5,1082.4" fill="none" stroke="#8f6f66" stroke-width="3.2" stroke-linejoin="round" stroke-linecap="round" opacity="0.78"/>
<text x="1866" y="612" font-size="24" fill="#6f6f6c" opacity="0.85" letter-spacing="0.5">Denver</text>
<circle cx="1858" cy="617" r="3" fill="#77808a" opacity="0.8"/>
<text x="2070" y="612.5" font-family="'Liberation Serif', serif" font-size="33" fill="#77776f" opacity="0.85" letter-spacing="30">UNIT</text>
<text x="1946" y="831.6" font-family="'Liberation Serif', serif" font-size="24" fill="#74746f" opacity="0.6" letter-spacing="9.5">COLORADO</text>
<text x="1922" y="496" font-size="15" fill="#2a2a2a" opacity="0.25">Greeley</text>
<text x="1846" y="545" font-size="15" fill="#2a2a2a" opacity="0.22">Longmont</text>
<text x="1745" y="565" font-size="14" fill="#2a2a2a" opacity="0.18">Boulder</text>
<text x="1729" y="797" font-size="15" fill="#2a2a2a" opacity="0.2">Colorado Springs</text>
<text x="1293" y="770" font-size="17" fill="#8f9088" opacity="0.8">l Junc</text>
<text x="1294" y="848" font-size="16" fill="#a4a59c" opacity="0.9">Peale</text>
<text x="1572" y="740" font-size="14" fill="#2a2a2a" opacity="0.15">Vail</text>
<text x="1400" y="1178" font-size="14" fill="#2a2a2a" opacity="0.15">Farm</text>
<circle cx="1891" cy="493" r="2.2" fill="#c8201c" opacity="0.8"/>
<circle cx="1834" cy="541" r="2.2" fill="#c8201c" opacity="0.8"/>
<circle cx="1811" cy="570" r="2.2" fill="#c8201c" opacity="0.8"/>
<circle cx="1871" cy="794" r="2.2" fill="#c8201c" opacity="0.8"/>
<circle cx="1854" cy="880" r="2.2" fill="#c8201c" opacity="0.8"/>
<circle cx="1303" cy="741" r="2.2" fill="#c8201c" opacity="0.8"/>
<g font-size="17.4" font-weight="bold" fill="#2b0808" text-anchor="middle">
<text x="1479" y="426.4">Yampa-White</text>
<text x="1479" y="447.1">Little</text>
<text x="1479" y="468.7">Snake</text>
<text x="1653" y="443.6">Laramie</text>
<text x="1653" y="464.7">and North Platte</text>
<text x="1822" y="460">South Platte</text>
<text x="1586.8" y="642.7">Colorado</text>
<text x="1586.8" y="663.4">Headwaters</text>
<text x="1507.8" y="829.3">Gunnison</text>
<text x="1902" y="909">Arkansas</text>
<text x="1696" y="974.5">Upper Rio</text>
<text x="1696" y="996.8">Grande</text>
<text x="1447.6" y="1026.1">San Miguel-Dolores</text>
<text x="1447.6" y="1047.7">Animas</text>
<text x="1447.6" y="1069">San Juan</text>
</g>
<g class="pl" font-size="22.6" stroke-width="4.8" text-anchor="middle">
<text x="1478" y="498.9">28%</text>
<text x="1652.4" y="493.5">38%</text>
<text x="1822" y="490">35%</text>
<text x="1586" y="693.8">26%</text>
<text x="1508" y="858.1">15%</text>
<text x="1902" y="937.1">10%</text>
<text x="1695" y="1024.3">9%</text>
<text x="1447" y="1097.1">9%</text>
</g>
<g fill="none" stroke="#1a1a1a">
<rect x="945.6" y="91.2" width="1703.6" height="1295.6" stroke-width="3"/>
<line x1="944" y1="198.8" x2="2650.8" y2="198.8" stroke-width="3"/>
<line x1="944" y1="1306.4" x2="2650.8" y2="1306.4" stroke-width="3"/>
<line x1="1361.2" y1="91" x2="1361.2" y2="198.8" stroke-width="2"/>
<line x1="2232.8" y1="91" x2="2232.8" y2="198.8" stroke-width="2"/>
</g>
<text x="1152.8" y="151.6" font-size="27.2" font-weight="normal" fill="#222" text-anchor="middle"  textLength="278.5" lengthAdjust="spacingAndGlyphs">Snow Water Equivalent</text>
<text x="1796.5" y="151.6" font-size="27.2" font-weight="normal" fill="#222" text-anchor="middle"  textLength="408" lengthAdjust="spacingAndGlyphs">Percent NRCS 1991-2020 Median</text>
<text x="2441" y="151.6" font-size="27.2" font-weight="normal" fill="#222" text-anchor="middle"  textLength="329.2" lengthAdjust="spacingAndGlyphs">March 31, 2026, end of day</text>
<rect x="961.5" y="932.6" width="191.6" height="356.9" fill="#fff" stroke="#333" stroke-width="2"/>
<text x="978.1" y="960.2" font-size="16.2" font-weight="bold" fill="#111" text-anchor="start"  textLength="108.2" lengthAdjust="spacingAndGlyphs">Percent NRCS</text>
<text x="978.1" y="981.2" font-size="16.2" font-weight="bold" fill="#111" text-anchor="start"  textLength="137.2" lengthAdjust="spacingAndGlyphs">1991-2020 Median</text>
<rect x="979" y="997.3" width="45.2" height="16" fill="#3a3af0" stroke="#222" stroke-width="1.8"/>
<text x="1033.8" y="1009.8" font-size="16.2" font-weight="normal" fill="#222" text-anchor="start"  textLength="54.4" lengthAdjust="spacingAndGlyphs">≥ 150%</text>
<rect x="979" y="1027.1" width="45.2" height="16" fill="#38a9ee" stroke="#222" stroke-width="1.8"/>
<text x="1033.8" y="1039.6" font-size="16.2" font-weight="normal" fill="#222" text-anchor="start"  textLength="104.3" lengthAdjust="spacingAndGlyphs">130% to 149%</text>
<rect x="979" y="1056.9" width="45.2" height="16" fill="#8cfbe4" stroke="#222" stroke-width="1.8"/>
<text x="1033.8" y="1069.4" font-size="16.2" font-weight="normal" fill="#222" text-anchor="start"  textLength="104.3" lengthAdjust="spacingAndGlyphs">110% to 129%</text>
<rect x="979" y="1086.7" width="45.2" height="16" fill="#6fe23a" stroke="#222" stroke-width="1.8"/>
<text x="1033.8" y="1099.2" font-size="16.2" font-weight="normal" fill="#222" text-anchor="start"  textLength="95.2" lengthAdjust="spacingAndGlyphs">90% to 109%</text>
<rect x="979" y="1116.5" width="45.2" height="16" fill="#ebe535" stroke="#222" stroke-width="1.8"/>
<text x="1033.8" y="1129" font-size="16.2" font-weight="normal" fill="#222" text-anchor="start"  textLength="86.1" lengthAdjust="spacingAndGlyphs">70% to 89%</text>
<rect x="979" y="1146.3" width="45.2" height="16" fill="#eea534" stroke="#222" stroke-width="1.8"/>
<text x="1033.8" y="1158.8" font-size="16.2" font-weight="normal" fill="#222" text-anchor="start"  textLength="86.1" lengthAdjust="spacingAndGlyphs">50% to 69%</text>
<rect x="979" y="1176.1" width="45.2" height="16" fill="#ea3537" stroke="#222" stroke-width="1.8"/>
<text x="1033.8" y="1188.6" font-size="16.2" font-weight="normal" fill="#222" text-anchor="start"  textLength="45.5" lengthAdjust="spacingAndGlyphs">&lt; 50%</text>
<rect x="979" y="1205.9" width="45.2" height="16" fill="#909090" stroke="#222" stroke-width="1.8"/>
<text x="1033.8" y="1218.4" font-size="16.2" font-weight="normal" fill="#222" text-anchor="start"  textLength="106.1" lengthAdjust="spacingAndGlyphs">No basin value</text>
<text x="978.1" y="1248.1" font-size="16.2" font-weight="bold" fill="#111" text-anchor="start"  textLength="175.9" lengthAdjust="spacingAndGlyphs">Watershed Boundaries</text>
<line x1="978.1" y1="1268.3" x2="1003" y2="1268.3" stroke="#444" stroke-width="2.4"/>
<text x="1012.3" y="1271.6" font-size="16.2" font-weight="normal" fill="#222" text-anchor="start"  textLength="127.2" lengthAdjust="spacingAndGlyphs">State Watersheds</text>
<g transform="translate(966.7,1317.7) scale(1)"><text x="-1.2" y="25.2" font-family="'Liberation Serif', serif" font-size="38" fill="#1f4e8c" stroke="#1f4e8c" stroke-width="0.7" textLength="82.5" lengthAdjust="spacingAndGlyphs" letter-spacing="-2">USDA</text><path d="M0,46.1 C12,42.5 25,39.8 37.4,38.4 C45,37.2 52,36.3 58.4,36 L81.4,34.9 L81.4,58.3 L0,58.3 Z" fill="#0b6340"/><path d="M81.4,28.3 L58.4,28.3 C52,28.8 48,29.6 44,30.4 C39,31.3 34,32.4 30.4,33.5 C25,35 20,37 16.4,38.4 L0,42.6 L0,44.4 L9.4,41.6 C14,40.2 19,38.8 23.4,37.7 C28,36.4 33,35.1 37.4,34.2 C44,33 51,32.2 58.4,31.8 L81.4,31.4 Z" fill="#0e5a3c"/><path d="M0,28.3 L22,31.4 L25.5,33 L0,32.1 Z" fill="#2c6b4d"/><path d="M0,33.8 L20,34.9 L14,37.4 L0,38.1 Z" fill="#2c6b4d"/><text x="96.8" y="14" font-size="17.6" fill="#3a6299" textLength="141.9" lengthAdjust="spacingAndGlyphs">Natural Resources</text><text x="96.8" y="31.6" font-size="17.6" fill="#3a6299" textLength="162.8" lengthAdjust="spacingAndGlyphs">Conservation Service</text><text x="96.8" y="56.6" font-size="15.6" font-weight="bold" fill="#27579a" textLength="297" lengthAdjust="spacingAndGlyphs">United States Department of Agriculture</text></g>
<g transform="translate(1796.5,1318.6) scale(1)"><text x="0" y="13.4" font-size="18" text-anchor="middle" fill="#111">N</text><path d="M0,18.5 L-12.8,58.6 L0,46.8 L12.8,58.6 Z" fill="#000"/><path d="M0.9,24.5 L0.9,45.6 L10.3,54.2 Z" fill="#fff"/></g>
<rect x="2064.3" y="1322.1" width="519.5" height="9" fill="#000"/>
<rect x="2085.08" y="1324.2" width="20.78" height="4.8" fill="#fff"/>
<rect x="2126.64" y="1324.2" width="20.78" height="4.8" fill="#fff"/>
<rect x="2168.2" y="1324.2" width="103.9" height="4.8" fill="#fff"/>
<rect x="2376" y="1324.2" width="103.9" height="4.8" fill="#fff"/>
<text x="2064.3" y="1351.2" font-size="17.8" font-weight="normal" fill="#111" text-anchor="middle" >0</text>
<text x="2116.25" y="1351.2" font-size="17.8" font-weight="normal" fill="#111" text-anchor="middle" >20</text>
<text x="2168.2" y="1351.2" font-size="17.8" font-weight="normal" fill="#111" text-anchor="middle" >40</text>
<text x="2272.1" y="1351.2" font-size="17.8" font-weight="normal" fill="#111" text-anchor="middle" >80</text>
<text x="2376" y="1351.2" font-size="17.8" font-weight="normal" fill="#111" text-anchor="middle" >120</text>
<text x="2479.9" y="1351.2" font-size="17.8" font-weight="normal" fill="#111" text-anchor="middle" >160</text>
<text x="2583.8" y="1351.2" font-size="17.8" font-weight="normal" fill="#111" text-anchor="middle" >200</text>
<text x="2594.2" y="1332.2" font-size="17" font-weight="normal" fill="#111" text-anchor="start"  textLength="40.8" lengthAdjust="spacingAndGlyphs">Miles</text>
<text x="2638.4" y="1381.9" font-size="17.4" font-weight="normal" fill="#111" text-anchor="end"  textLength="150.8" lengthAdjust="spacingAndGlyphs">Created 4-01-2026</text>
</g>
<text x="129.6" y="1443.7" font-size="33" font-weight="normal" fill="#7f9b90" text-anchor="start"  textLength="373" lengthAdjust="spacingAndGlyphs">Colorado Springs Utilities</text>
<text x="2614.5" y="1444.4" font-size="28" font-weight="normal" fill="#7f9b90" text-anchor="end" >6</text>
</svg></body></html>
